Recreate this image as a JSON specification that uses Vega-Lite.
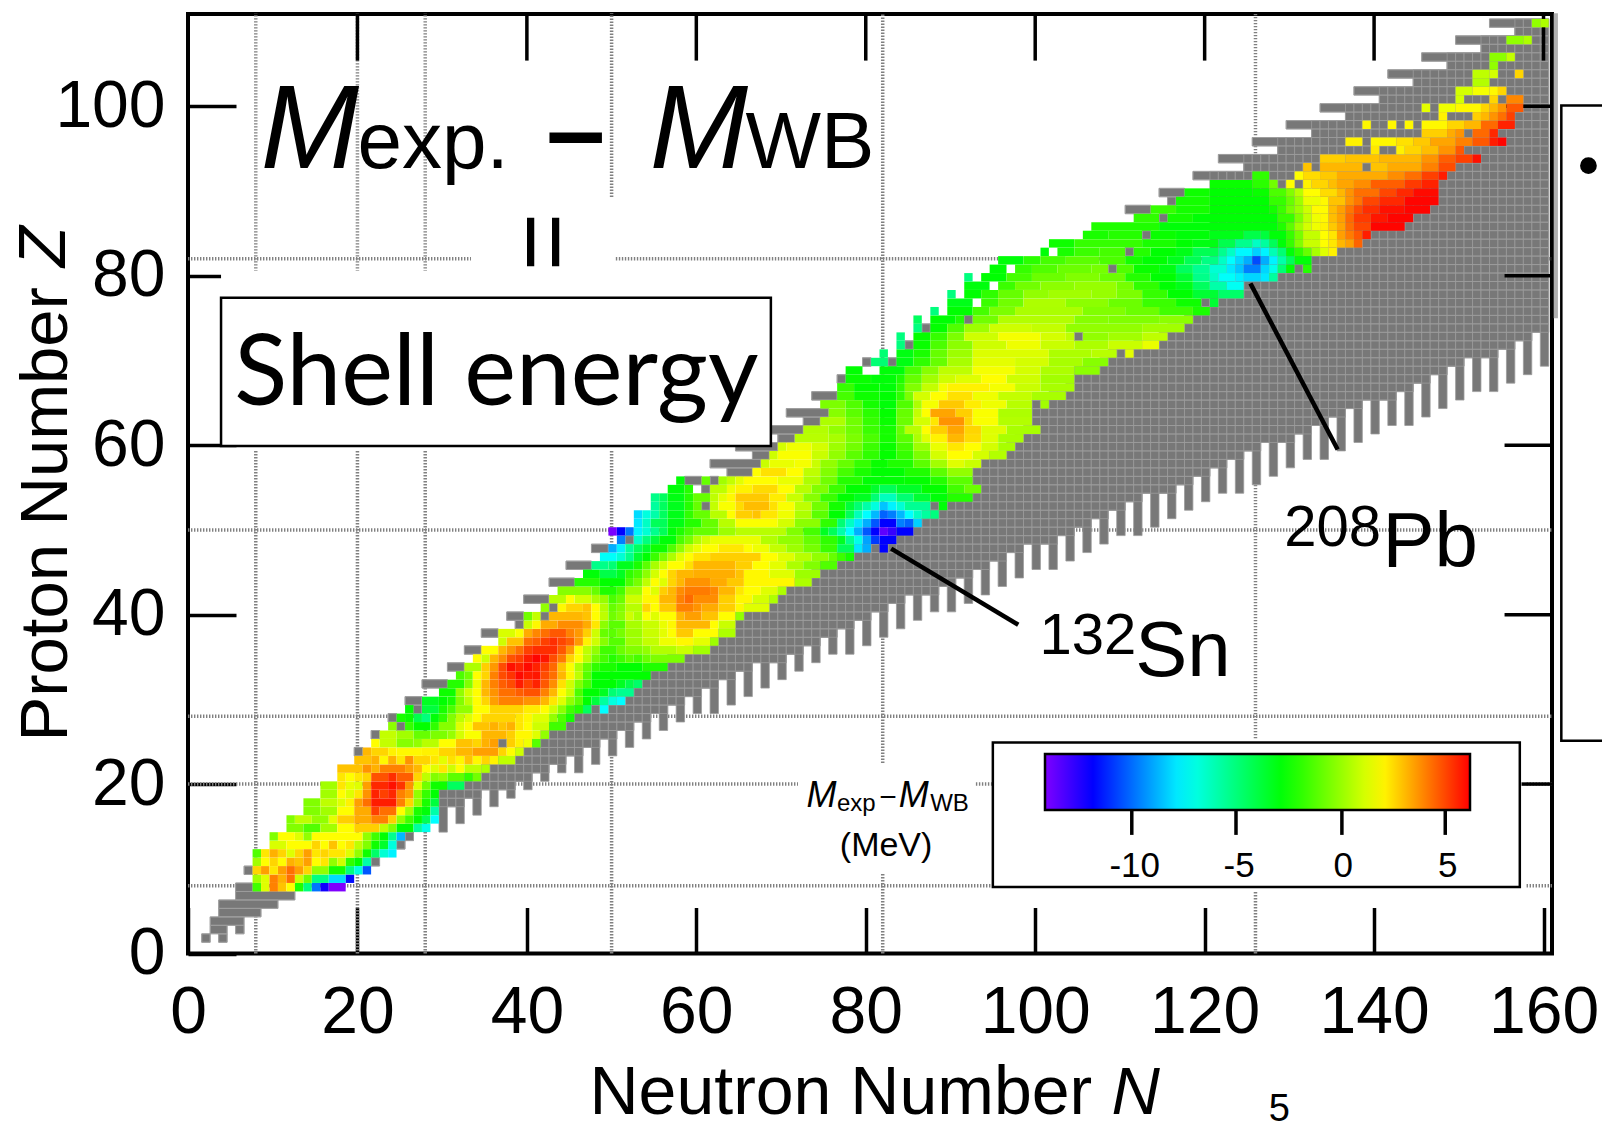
{"$schema":"https://vega.github.io/schema/vega-lite/v6.json","autosize":{"type":"none"},"width":1364,"height":939.5,"padding":{"left":188,"top":14,"right":50,"bottom":167.5},"background":"white","view":{"stroke":"black","strokeWidth":4,"fill":null},
"datasets":{
"magicV":[{"n":8,"z0":80.5,"z1":111},{"n":8,"z0":0,"z1":59.4},{"n":20,"z0":80.5,"z1":111},{"n":20,"z0":0,"z1":59.4},{"n":28,"z0":80.5,"z1":111},{"n":28,"z0":0,"z1":59.4},{"n":50,"z0":89.3,"z1":111},{"n":50,"z0":0,"z1":59.4},{"n":82,"z0":22.5,"z1":111},{"n":82,"z0":0,"z1":9.5},{"n":126,"z0":25.4,"z1":111},{"n":126,"z0":0,"z1":7.3}],
"magicH":[{"z":8,"n0":0,"n1":95},{"z":8,"n0":158,"n1":161},{"z":20,"n0":0,"n1":72},{"z":20,"n0":93,"n1":95},{"z":20,"n0":158,"n1":161},{"z":28,"n0":0,"n1":161},{"z":50,"n0":0,"n1":161},{"z":82,"n0":0,"n1":33.4},{"z":82,"n0":50.5,"n1":161}],
"gray":[{"z":2,"a":2,"b":2},{"z":2,"a":4,"b":4},{"z":3,"a":3,"b":4},{"z":3,"a":6,"b":6},{"z":4,"a":3,"b":6},{"z":5,"a":4,"b":8},{"z":6,"a":4,"b":10},{"z":7,"a":6,"b":12},{"z":8,"a":6,"b":7},{"z":10,"a":7,"b":7},{"z":11,"a":22,"b":22},{"z":13,"a":25,"b":25},{"z":14,"a":26,"b":26},{"z":24,"a":20,"b":20},{"z":25,"a":37,"b":37},{"z":26,"a":22,"b":22},{"z":27,"a":25,"b":25},{"z":28,"a":24,"b":24},{"z":29,"a":27,"b":27},{"z":29,"a":48,"b":48},{"z":30,"a":26,"b":27},{"z":32,"a":28,"b":30},{"z":34,"a":31,"b":32},{"z":36,"a":33,"b":34},{"z":38,"a":35,"b":36},{"z":39,"a":39,"b":39},{"z":40,"a":38,"b":39},{"z":40,"a":42,"b":42},{"z":41,"a":43,"b":43},{"z":42,"a":40,"b":42},{"z":44,"a":43,"b":45},{"z":46,"a":45,"b":47},{"z":48,"a":48,"b":49},{"z":48,"a":81,"b":81},{"z":49,"a":52,"b":52},{"z":53,"a":61,"b":61},{"z":53,"a":88,"b":88},{"z":55,"a":61,"b":61},{"z":56,"a":59,"b":60},{"z":56,"a":62,"b":62},{"z":57,"a":64,"b":66},{"z":58,"a":62,"b":67},{"z":59,"a":67,"b":68},{"z":60,"a":65,"b":69},{"z":61,"a":70,"b":71},{"z":62,"a":69,"b":72},{"z":63,"a":73,"b":74},{"z":64,"a":71,"b":75},{"z":65,"a":100,"b":100},{"z":66,"a":74,"b":76},{"z":68,"a":77,"b":77},{"z":70,"a":80,"b":80},{"z":70,"a":83,"b":83},{"z":71,"a":110,"b":110},{"z":72,"a":85,"b":85},{"z":73,"a":105,"b":105},{"z":74,"a":87,"b":87},{"z":75,"a":92,"b":92},{"z":77,"a":120,"b":120},{"z":81,"a":109,"b":109},{"z":81,"a":131,"b":131},{"z":83,"a":111,"b":111},{"z":85,"a":113,"b":113},{"z":87,"a":115,"b":115},{"z":88,"a":111,"b":113},{"z":89,"a":116,"b":116},{"z":90,"a":115,"b":117},{"z":91,"a":129,"b":129},
{"z":18,"a":30,"b":32},{"z":19,"a":30,"b":34},{"z":20,"a":33,"b":38},{"z":21,"a":35,"b":40},{"z":22,"a":36,"b":42},{"z":23,"a":39,"b":44},{"z":24,"a":40,"b":46},{"z":25,"a":42,"b":48},{"z":26,"a":43,"b":50},{"z":27,"a":45,"b":52},{"z":28,"a":46,"b":54},{"z":29,"a":50,"b":56},{"z":30,"a":52,"b":58},{"z":31,"a":53,"b":60},{"z":32,"a":54,"b":62},{"z":33,"a":55,"b":64},{"z":34,"a":57,"b":66},{"z":35,"a":59,"b":70},{"z":36,"a":62,"b":72},{"z":37,"a":63,"b":74},{"z":38,"a":65,"b":76},{"z":39,"a":65,"b":78},{"z":40,"a":66,"b":80},{"z":41,"a":69,"b":82},{"z":42,"a":70,"b":84},{"z":43,"a":71,"b":88},{"z":44,"a":74,"b":90},{"z":45,"a":75,"b":92},{"z":46,"a":77,"b":94},{"z":47,"a":79,"b":96},{"z":48,"a":83,"b":98},{"z":49,"a":84,"b":102},{"z":50,"a":86,"b":104},{"z":51,"a":87,"b":106},{"z":52,"a":89,"b":108},{"z":53,"a":90,"b":110},{"z":54,"a":93,"b":112},{"z":55,"a":94,"b":116},{"z":56,"a":93,"b":118},{"z":57,"a":93,"b":120},{"z":58,"a":94,"b":122},{"z":59,"a":97,"b":124},{"z":60,"a":98,"b":126},{"z":61,"a":99,"b":130},{"z":62,"a":101,"b":132},{"z":63,"a":100,"b":134},{"z":64,"a":100,"b":136},{"z":65,"a":102,"b":138},{"z":66,"a":104,"b":142},{"z":67,"a":105,"b":144},{"z":68,"a":105,"b":146},{"z":69,"a":108,"b":148},{"z":70,"a":109,"b":150},{"z":71,"a":112,"b":154},{"z":72,"a":115,"b":156},{"z":73,"a":116,"b":158},{"z":74,"a":118,"b":160},{"z":75,"a":119,"b":160},{"z":76,"a":121,"b":160},{"z":77,"a":122,"b":160},{"z":78,"a":125,"b":160},{"z":79,"a":125,"b":160},{"z":80,"a":129,"b":160},{"z":81,"a":133,"b":160},{"z":82,"a":133,"b":160},{"z":83,"a":136,"b":160},{"z":84,"a":139,"b":160},{"z":85,"a":140,"b":160},{"z":86,"a":144,"b":160},{"z":87,"a":145,"b":160},{"z":88,"a":147,"b":160},{"z":89,"a":148,"b":160},{"z":90,"a":148,"b":160},{"z":91,"a":148,"b":160},{"z":92,"a":119,"b":160},{"z":93,"a":125,"b":160},{"z":94,"a":122,"b":160},{"z":95,"a":129,"b":160},{"z":96,"a":126,"b":160},{"z":97,"a":133,"b":160},{"z":98,"a":130,"b":160},{"z":99,"a":137,"b":160},{"z":100,"a":134,"b":160},{"z":101,"a":141,"b":160},{"z":102,"a":138,"b":160},{"z":103,"a":145,"b":160},{"z":104,"a":142,"b":160},{"z":105,"a":149,"b":160},{"z":106,"a":146,"b":160},{"z":107,"a":153,"b":160},{"z":108,"a":150,"b":160},{"z":109,"a":157,"b":160},{"z":110,"a":154,"b":160}],
"teeth":[{"n":30,"z0":15,"z1":20},{"n":31,"z0":18,"z1":20},{"n":32,"z0":16,"z1":20},{"n":33,"z0":19,"z1":21},{"n":34,"z0":17,"z1":21},{"n":35,"z0":20,"z1":22},{"n":36,"z0":18,"z1":23},{"n":37,"z0":20,"z1":23},{"n":38,"z0":19,"z1":23},{"n":39,"z0":21,"z1":24},{"n":40,"z0":20,"z1":25},{"n":41,"z0":22,"z1":25},{"n":42,"z0":21,"z1":26},{"n":43,"z0":23,"z1":27},{"n":44,"z0":22,"z1":27},{"n":45,"z0":24,"z1":28},{"n":46,"z0":22,"z1":29},{"n":47,"z0":25,"z1":29},{"n":48,"z0":23,"z1":29},{"n":49,"z0":26,"z1":29},{"n":50,"z0":24,"z1":30},{"n":51,"z0":27,"z1":30},{"n":52,"z0":25,"z1":31},{"n":53,"z0":28,"z1":32},{"n":54,"z0":26,"z1":33},{"n":55,"z0":29,"z1":34},{"n":56,"z0":27,"z1":34},{"n":57,"z0":30,"z1":35},{"n":58,"z0":28,"z1":35},{"n":59,"z0":31,"z1":36},{"n":60,"z0":29,"z1":36},{"n":61,"z0":32,"z1":36},{"n":62,"z0":29,"z1":37},{"n":63,"z0":33,"z1":38},{"n":64,"z0":30,"z1":38},{"n":65,"z0":34,"z1":40},{"n":66,"z0":31,"z1":41},{"n":67,"z0":35,"z1":41},{"n":68,"z0":32,"z1":41},{"n":69,"z0":35,"z1":42},{"n":70,"z0":33,"z1":43},{"n":71,"z0":36,"z1":44},{"n":72,"z0":34,"z1":44},{"n":73,"z0":37,"z1":44},{"n":74,"z0":35,"z1":45},{"n":75,"z0":38,"z1":46},{"n":76,"z0":36,"z1":46},{"n":77,"z0":39,"z1":47},{"n":78,"z0":36,"z1":47},{"n":79,"z0":40,"z1":48},{"n":80,"z0":37,"z1":48},{"n":81,"z0":41,"z1":48},{"n":82,"z0":38,"z1":48},{"n":83,"z0":42,"z1":49},{"n":84,"z0":39,"z1":50},{"n":85,"z0":43,"z1":50},{"n":86,"z0":40,"z1":51},{"n":87,"z0":43,"z1":52},{"n":88,"z0":41,"z1":52},{"n":89,"z0":44,"z1":53},{"n":90,"z0":41,"z1":54},{"n":91,"z0":45,"z1":54},{"n":92,"z0":42,"z1":54},{"n":93,"z0":46,"z1":55},{"n":94,"z0":43,"z1":59},{"n":95,"z0":47,"z1":59},{"n":96,"z0":44,"z1":59},{"n":97,"z0":48,"z1":60},{"n":98,"z0":45,"z1":61},{"n":99,"z0":49,"z1":62},{"n":100,"z0":46,"z1":62},{"n":101,"z0":49,"z1":65},{"n":102,"z0":46,"z1":66},{"n":103,"z0":50,"z1":66},{"n":104,"z0":47,"z1":67},{"n":105,"z0":51,"z1":69},{"n":106,"z0":48,"z1":69},{"n":107,"z0":52,"z1":69},{"n":108,"z0":49,"z1":70},{"n":109,"z0":53,"z1":71},{"n":110,"z0":50,"z1":71},{"n":111,"z0":54,"z1":71},{"n":112,"z0":50,"z1":72},{"n":113,"z0":55,"z1":72},{"n":114,"z0":51,"z1":72},{"n":115,"z0":55,"z1":73},{"n":116,"z0":52,"z1":74},{"n":117,"z0":56,"z1":74},{"n":118,"z0":53,"z1":75},{"n":119,"z0":57,"z1":76},{"n":120,"z0":54,"z1":76},{"n":121,"z0":58,"z1":92},{"n":122,"z0":55,"z1":92},{"n":123,"z0":59,"z1":92},{"n":124,"z0":55,"z1":92},{"n":125,"z0":60,"z1":94},{"n":126,"z0":56,"z1":94},{"n":127,"z0":61,"z1":94},{"n":128,"z0":57,"z1":94},{"n":129,"z0":61,"z1":96},{"n":130,"z0":58,"z1":96},{"n":131,"z0":62,"z1":96},{"n":132,"z0":59,"z1":96},{"n":133,"z0":63,"z1":98},{"n":134,"z0":59,"z1":98},{"n":135,"z0":64,"z1":98},{"n":136,"z0":60,"z1":98},{"n":137,"z0":65,"z1":100},{"n":138,"z0":61,"z1":100},{"n":139,"z0":66,"z1":100},{"n":140,"z0":62,"z1":100},{"n":141,"z0":66,"z1":102},{"n":142,"z0":63,"z1":102},{"n":143,"z0":67,"z1":102},{"n":144,"z0":63,"z1":102},{"n":145,"z0":68,"z1":104},{"n":146,"z0":64,"z1":104},{"n":147,"z0":69,"z1":104},{"n":148,"z0":65,"z1":104},{"n":149,"z0":70,"z1":106},{"n":150,"z0":66,"z1":106},{"n":151,"z0":71,"z1":106},{"n":152,"z0":67,"z1":106},{"n":153,"z0":71,"z1":108},{"n":154,"z0":67,"z1":108},{"n":155,"z0":72,"z1":108},{"n":156,"z0":68,"z1":108},{"n":157,"z0":73,"z1":110},{"n":158,"z0":69,"z1":110},{"n":159,"z0":74,"z1":110},{"n":160,"z0":70,"z1":110}],
"ticksV":[{"n":20,"z0":105.4,"z1":110.9},{"n":40,"z0":105.4,"z1":110.9},{"n":60,"z0":105.4,"z1":110.9},{"n":80,"z0":105.4,"z1":110.9},{"n":100,"z0":105.4,"z1":110.9},{"n":120,"z0":105.4,"z1":110.9},{"n":140,"z0":105.4,"z1":110.9},{"n":160,"z0":105.4,"z1":110.9}],
"ticksBar":[{"n":111.4,"z0":14,"z1":16.9},{"n":123.7,"z0":14,"z1":16.9},{"n":136.2,"z0":14,"z1":16.9},{"n":148.4,"z0":14,"z1":16.9}],
"ticksH":[{"z":20,"n0":157.4,"n1":161},{"z":40,"n0":155.4,"n1":161},{"z":60,"n0":155.4,"n1":161},{"z":80,"n0":155.4,"n1":161},{"z":100,"n0":155.4,"n1":161}],
"cells":[{"z":8,"a":8,"b":8,"v":-1.7},{"z":8,"a":9,"b":9,"v":1.2},{"z":8,"a":10,"b":10,"v":3.9},{"z":8,"a":11,"b":11,"v":2.8},{"z":8,"a":12,"b":12,"v":1.8},{"z":8,"a":13,"b":13,"v":-2.3},{"z":8,"a":14,"b":14,"v":-5.2},{"z":8,"a":15,"b":15,"v":-10},{"z":8,"a":16,"b":16,"v":-12.3},{"z":8,"a":17,"b":18,"v":-14.3},
{"z":9,"a":8,"b":8,"v":0.1},{"z":9,"a":9,"b":9,"v":1.2},{"z":9,"a":10,"b":10,"v":3.9},{"z":9,"a":11,"b":11,"v":3.1},{"z":9,"a":12,"b":12,"v":4.2},{"z":9,"a":13,"b":13,"v":0.9},{"z":9,"a":14,"b":14,"v":-0.8},{"z":9,"a":15,"b":16,"v":-5.3},{"z":9,"a":17,"b":18,"v":-8.2},{"z":9,"a":19,"b":19,"v":-11.8},
{"z":10,"a":8,"b":8,"v":2.5},{"z":10,"a":9,"b":9,"v":3.4},{"z":10,"a":10,"b":10,"v":2.2},{"z":10,"a":11,"b":11,"v":3.4},{"z":10,"a":12,"b":12,"v":4.2},{"z":10,"a":13,"b":13,"v":3.4},{"z":10,"a":14,"b":14,"v":2.5},{"z":10,"a":15,"b":16,"v":-0.2},{"z":10,"a":17,"b":18,"v":-2.5},{"z":10,"a":19,"b":19,"v":-5.2},{"z":10,"a":20,"b":20,"v":-7},{"z":10,"a":21,"b":21,"v":-10.5},
{"z":11,"a":8,"b":8,"v":0.1},{"z":11,"a":9,"b":9,"v":1.8},{"z":11,"a":10,"b":10,"v":2.5},{"z":11,"a":11,"b":11,"v":1.8},{"z":11,"a":12,"b":12,"v":3.1},{"z":11,"a":13,"b":13,"v":2.8},{"z":11,"a":14,"b":14,"v":3.4},{"z":11,"a":15,"b":15,"v":1.8},{"z":11,"a":16,"b":16,"v":2.2},{"z":11,"a":17,"b":17,"v":-0.2},{"z":11,"a":18,"b":18,"v":0.9},{"z":11,"a":19,"b":19,"v":-2},{"z":11,"a":20,"b":20,"v":-2.9},{"z":11,"a":21,"b":21,"v":-6},
{"z":12,"a":8,"b":8,"v":-1.4},{"z":12,"a":9,"b":9,"v":2.2},{"z":12,"a":10,"b":10,"v":3.1},{"z":12,"a":11,"b":11,"v":2.5},{"z":12,"a":12,"b":12,"v":1.2},{"z":12,"a":13,"b":13,"v":2.5},{"z":12,"a":14,"b":14,"v":3.4},{"z":12,"a":15,"b":15,"v":2.2},{"z":12,"a":16,"b":16,"v":2.5},{"z":12,"a":17,"b":18,"v":2.2},{"z":12,"a":19,"b":19,"v":1.2},{"z":12,"a":20,"b":20,"v":-0.2},{"z":12,"a":21,"b":21,"v":-2.6},{"z":12,"a":22,"b":22,"v":-4.8},{"z":12,"a":23,"b":23,"v":-6.8},{"z":12,"a":24,"b":24,"v":-7.8},
{"z":13,"a":10,"b":11,"v":1.1},{"z":13,"a":12,"b":14,"v":1.8},{"z":13,"a":15,"b":15,"v":2.5},{"z":13,"a":16,"b":16,"v":1.8},{"z":13,"a":17,"b":17,"v":2.8},{"z":13,"a":18,"b":18,"v":1.8},{"z":13,"a":19,"b":19,"v":2.2},{"z":13,"a":20,"b":20,"v":0.6},{"z":13,"a":21,"b":21,"v":-0.5},{"z":13,"a":22,"b":22,"v":-2.6},{"z":13,"a":23,"b":23,"v":-3.7},{"z":13,"a":24,"b":24,"v":-7},
{"z":14,"a":10,"b":10,"v":-0.5},{"z":14,"a":11,"b":12,"v":1.8},{"z":14,"a":13,"b":13,"v":1.2},{"z":14,"a":14,"b":14,"v":-0.2},{"z":14,"a":15,"b":20,"v":1.8},{"z":14,"a":21,"b":21,"v":-0.2},{"z":14,"a":22,"b":22,"v":-1.7},{"z":14,"a":23,"b":23,"v":-2.9},{"z":14,"a":24,"b":24,"v":-5.5},{"z":14,"a":25,"b":25,"v":-8.8},
{"z":15,"a":12,"b":13,"v":-0.5},{"z":15,"a":14,"b":15,"v":-1.4},{"z":15,"a":16,"b":17,"v":0.1},{"z":15,"a":18,"b":19,"v":1.8},{"z":15,"a":20,"b":22,"v":2.6},{"z":15,"a":23,"b":23,"v":0.6},{"z":15,"a":24,"b":24,"v":-0.5},{"z":15,"a":25,"b":26,"v":-2.9},{"z":15,"a":27,"b":27,"v":-5.8},{"z":15,"a":28,"b":28,"v":-7.2},
{"z":16,"a":12,"b":12,"v":-0.5},{"z":16,"a":13,"b":14,"v":0.6},{"z":16,"a":15,"b":16,"v":-0.2},{"z":16,"a":17,"b":17,"v":1.3},{"z":16,"a":18,"b":19,"v":2.6},{"z":16,"a":20,"b":21,"v":3.2},{"z":16,"a":22,"b":23,"v":3.9},{"z":16,"a":24,"b":24,"v":2.6},{"z":16,"a":25,"b":25,"v":-0.2},{"z":16,"a":26,"b":26,"v":-1.7},{"z":16,"a":27,"b":27,"v":-2.9},{"z":16,"a":28,"b":28,"v":-4.4},{"z":16,"a":29,"b":29,"v":-7.6},
{"z":17,"a":14,"b":15,"v":-0.5},{"z":17,"a":16,"b":17,"v":0.1},{"z":17,"a":18,"b":19,"v":1.8},{"z":17,"a":20,"b":21,"v":3.2},{"z":17,"a":22,"b":22,"v":5},{"z":17,"a":23,"b":24,"v":4.2},{"z":17,"a":25,"b":25,"v":1.8},{"z":17,"a":26,"b":26,"v":0.1},{"z":17,"a":27,"b":27,"v":-2.4},{"z":17,"a":28,"b":28,"v":-3},{"z":17,"a":29,"b":29,"v":-6},
{"z":18,"a":14,"b":15,"v":-0.5},{"z":18,"a":16,"b":17,"v":0.6},{"z":18,"a":18,"b":18,"v":1.2},{"z":18,"a":19,"b":19,"v":2},{"z":18,"a":20,"b":20,"v":3.4},{"z":18,"a":21,"b":21,"v":4.2},{"z":18,"a":22,"b":24,"v":5.6},{"z":18,"a":25,"b":25,"v":3.9},{"z":18,"a":26,"b":26,"v":2.5},{"z":18,"a":27,"b":27,"v":-0.2},{"z":18,"a":28,"b":28,"v":-2.4},{"z":18,"a":29,"b":29,"v":-4},
{"z":19,"a":16,"b":17,"v":0.1},{"z":19,"a":18,"b":18,"v":1.8},{"z":19,"a":19,"b":19,"v":1.2},{"z":19,"a":20,"b":20,"v":2.2},{"z":19,"a":21,"b":21,"v":3.6},{"z":19,"a":22,"b":22,"v":5.5},{"z":19,"a":23,"b":23,"v":5},{"z":19,"a":24,"b":24,"v":5.4},{"z":19,"a":25,"b":25,"v":3.9},{"z":19,"a":26,"b":26,"v":3.4},{"z":19,"a":27,"b":27,"v":-0.2},{"z":19,"a":28,"b":28,"v":-1.9},{"z":19,"a":29,"b":29,"v":-2.9},
{"z":20,"a":16,"b":17,"v":0.1},{"z":20,"a":18,"b":18,"v":2.2},{"z":20,"a":19,"b":19,"v":1.4},{"z":20,"a":20,"b":20,"v":1.2},{"z":20,"a":21,"b":21,"v":3.4},{"z":20,"a":22,"b":23,"v":5.4},{"z":20,"a":24,"b":24,"v":5.8},{"z":20,"a":25,"b":25,"v":5.2},{"z":20,"a":26,"b":26,"v":3.6},{"z":20,"a":27,"b":27,"v":1.2},{"z":20,"a":28,"b":28,"v":-0.8},{"z":20,"a":29,"b":30,"v":-2.6},{"z":20,"a":31,"b":32,"v":-4.6},
{"z":21,"a":18,"b":18,"v":2.2},{"z":21,"a":19,"b":19,"v":1.8},{"z":21,"a":20,"b":20,"v":2.2},{"z":21,"a":21,"b":21,"v":2.5},{"z":21,"a":22,"b":23,"v":4.7},{"z":21,"a":24,"b":24,"v":5.3},{"z":21,"a":25,"b":26,"v":4.5},{"z":21,"a":27,"b":27,"v":2.5},{"z":21,"a":28,"b":28,"v":0.6},{"z":21,"a":29,"b":29,"v":-0.5},{"z":21,"a":30,"b":30,"v":-0.2},{"z":21,"a":31,"b":32,"v":-1.2},{"z":21,"a":33,"b":33,"v":-2},{"z":21,"a":34,"b":34,"v":-0.8},
{"z":22,"a":18,"b":20,"v":2.8},{"z":22,"a":21,"b":21,"v":3.6},{"z":22,"a":22,"b":22,"v":3.1},{"z":22,"a":23,"b":25,"v":3.9},{"z":22,"a":26,"b":26,"v":3.4},{"z":22,"a":27,"b":27,"v":3},{"z":22,"a":28,"b":28,"v":1.8},{"z":22,"a":29,"b":29,"v":1.2},{"z":22,"a":30,"b":30,"v":2.2},{"z":22,"a":31,"b":31,"v":0.9},{"z":22,"a":32,"b":32,"v":1.8},{"z":22,"a":33,"b":34,"v":0.6},{"z":22,"a":35,"b":35,"v":0.3},
{"z":23,"a":20,"b":21,"v":2.8},{"z":23,"a":22,"b":22,"v":3.1},{"z":23,"a":23,"b":23,"v":1.9},{"z":23,"a":24,"b":24,"v":3.1},{"z":23,"a":25,"b":25,"v":2.2},{"z":23,"a":26,"b":26,"v":3.6},{"z":23,"a":27,"b":28,"v":2.5},{"z":23,"a":29,"b":29,"v":2.2},{"z":23,"a":30,"b":30,"v":1.3},{"z":23,"a":31,"b":31,"v":2.3},{"z":23,"a":32,"b":32,"v":1.9},{"z":23,"a":33,"b":33,"v":2.8},{"z":23,"a":34,"b":34,"v":1.9},{"z":23,"a":35,"b":35,"v":2.5},{"z":23,"a":36,"b":36,"v":2},{"z":23,"a":37,"b":38,"v":0.6},
{"z":24,"a":21,"b":21,"v":3},{"z":24,"a":22,"b":23,"v":2.5},{"z":24,"a":24,"b":24,"v":2},{"z":24,"a":25,"b":27,"v":1.9},{"z":24,"a":28,"b":29,"v":2},{"z":24,"a":30,"b":31,"v":2.5},{"z":24,"a":32,"b":33,"v":3},{"z":24,"a":34,"b":36,"v":3.4},{"z":24,"a":37,"b":37,"v":2.5},{"z":24,"a":38,"b":38,"v":1.8},{"z":24,"a":39,"b":39,"v":0.9},
{"z":25,"a":22,"b":22,"v":1.8},{"z":25,"a":23,"b":24,"v":0.7},{"z":25,"a":25,"b":26,"v":-0.4},{"z":25,"a":27,"b":27,"v":-0.2},{"z":25,"a":28,"b":29,"v":0.5},{"z":25,"a":30,"b":31,"v":1.8},{"z":25,"a":32,"b":33,"v":2.8},{"z":25,"a":34,"b":34,"v":2.5},{"z":25,"a":35,"b":35,"v":3.1},{"z":25,"a":36,"b":36,"v":3.4},{"z":25,"a":38,"b":38,"v":2.6},{"z":25,"a":39,"b":39,"v":2},{"z":25,"a":40,"b":40,"v":1.5},{"z":25,"a":41,"b":41,"v":-1.3},
{"z":26,"a":23,"b":24,"v":0.7},{"z":26,"a":25,"b":26,"v":0.1},{"z":26,"a":27,"b":28,"v":-1},{"z":26,"a":29,"b":30,"v":-0.6},{"z":26,"a":31,"b":31,"v":-0.1},{"z":26,"a":32,"b":32,"v":1},{"z":26,"a":33,"b":34,"v":1.7},{"z":26,"a":35,"b":37,"v":3},{"z":26,"a":38,"b":38,"v":2.6},{"z":26,"a":39,"b":40,"v":1.9},{"z":26,"a":41,"b":41,"v":1.2},{"z":26,"a":42,"b":42,"v":-0.2},
{"z":27,"a":24,"b":24,"v":-0.3},{"z":27,"a":26,"b":26,"v":-1.9},{"z":27,"a":27,"b":28,"v":-2.8},{"z":27,"a":29,"b":29,"v":-2},{"z":27,"a":30,"b":31,"v":-0.4},{"z":27,"a":32,"b":32,"v":1.2},{"z":27,"a":33,"b":33,"v":1.8},{"z":27,"a":34,"b":35,"v":2.8},{"z":27,"a":36,"b":36,"v":3.1},{"z":27,"a":37,"b":37,"v":2.8},{"z":27,"a":38,"b":38,"v":3.1},{"z":27,"a":39,"b":39,"v":2.2},{"z":27,"a":40,"b":40,"v":1.8},{"z":27,"a":41,"b":42,"v":0.9},{"z":27,"a":43,"b":44,"v":-1.7},
{"z":28,"a":25,"b":25,"v":-2.4},{"z":28,"a":26,"b":26,"v":-2.7},{"z":28,"a":27,"b":27,"v":-4.3},{"z":28,"a":28,"b":28,"v":-5.2},{"z":28,"a":29,"b":29,"v":-3},{"z":28,"a":30,"b":30,"v":-2},{"z":28,"a":31,"b":31,"v":-0.5},{"z":28,"a":32,"b":32,"v":0.6},{"z":28,"a":33,"b":33,"v":1.2},{"z":28,"a":34,"b":34,"v":1.8},{"z":28,"a":35,"b":38,"v":2.5},{"z":28,"a":39,"b":39,"v":2.2},{"z":28,"a":40,"b":40,"v":1.9},{"z":28,"a":41,"b":42,"v":1.2},{"z":28,"a":43,"b":43,"v":-0.2},{"z":28,"a":44,"b":44,"v":-1.4},{"z":28,"a":45,"b":45,"v":-2.5},
{"z":29,"a":26,"b":26,"v":-2.9},{"z":29,"a":28,"b":29,"v":-4},{"z":29,"a":30,"b":30,"v":-2.4},{"z":29,"a":31,"b":31,"v":-1.5},{"z":29,"a":32,"b":33,"v":-0.2},{"z":29,"a":34,"b":35,"v":1.8},{"z":29,"a":36,"b":39,"v":2.5},{"z":29,"a":40,"b":41,"v":2.1},{"z":29,"a":42,"b":42,"v":1.8},{"z":29,"a":43,"b":43,"v":0.9},{"z":29,"a":44,"b":44,"v":-0.3},{"z":29,"a":45,"b":45,"v":-1.7},{"z":29,"a":46,"b":46,"v":-2.2},{"z":29,"a":47,"b":47,"v":-4.6},{"z":29,"a":49,"b":49,"v":-7.6},
{"z":30,"a":28,"b":29,"v":-3.5},{"z":30,"a":30,"b":30,"v":-2.9},{"z":30,"a":31,"b":31,"v":-2.4},{"z":30,"a":32,"b":32,"v":-0.5},{"z":30,"a":33,"b":33,"v":0.6},{"z":30,"a":34,"b":34,"v":1.8},{"z":30,"a":35,"b":35,"v":2.5},{"z":30,"a":36,"b":36,"v":3.4},{"z":30,"a":37,"b":39,"v":3.9},{"z":30,"a":40,"b":41,"v":3.6},{"z":30,"a":42,"b":42,"v":3},{"z":30,"a":43,"b":43,"v":2.2},{"z":30,"a":44,"b":44,"v":1.2},{"z":30,"a":45,"b":45,"v":-0.2},{"z":30,"a":46,"b":46,"v":-1.2},{"z":30,"a":47,"b":47,"v":-2.9},{"z":30,"a":48,"b":48,"v":-4},{"z":30,"a":49,"b":49,"v":-5.8},{"z":30,"a":50,"b":50,"v":-7},{"z":30,"a":51,"b":51,"v":-7.6},
{"z":31,"a":30,"b":31,"v":-2.6},{"z":31,"a":32,"b":32,"v":-0.2},{"z":31,"a":33,"b":33,"v":1},{"z":31,"a":34,"b":34,"v":1.8},{"z":31,"a":35,"b":35,"v":3},{"z":31,"a":36,"b":36,"v":3.6},{"z":31,"a":37,"b":38,"v":4.2},{"z":31,"a":39,"b":39,"v":4.5},{"z":31,"a":40,"b":41,"v":4.7},{"z":31,"a":42,"b":42,"v":3.9},{"z":31,"a":43,"b":43,"v":3},{"z":31,"a":44,"b":44,"v":1.8},{"z":31,"a":45,"b":45,"v":0.8},{"z":31,"a":46,"b":46,"v":-1.5},{"z":31,"a":47,"b":48,"v":-2.9},{"z":31,"a":49,"b":49,"v":-3.5},{"z":31,"a":50,"b":50,"v":-5},{"z":31,"a":51,"b":52,"v":-5.5},
{"z":32,"a":31,"b":32,"v":-2.2},{"z":32,"a":33,"b":33,"v":-0.5},{"z":32,"a":34,"b":34,"v":1.5},{"z":32,"a":35,"b":35,"v":3},{"z":32,"a":36,"b":36,"v":3.9},{"z":32,"a":37,"b":37,"v":4.5},{"z":32,"a":38,"b":38,"v":4.8},{"z":32,"a":39,"b":39,"v":5.6},{"z":32,"a":40,"b":40,"v":5},{"z":32,"a":41,"b":41,"v":5.5},{"z":32,"a":42,"b":42,"v":4.6},{"z":32,"a":43,"b":43,"v":3.7},{"z":32,"a":44,"b":44,"v":2.3},{"z":32,"a":45,"b":45,"v":0.9},{"z":32,"a":46,"b":46,"v":-0.5},{"z":32,"a":47,"b":47,"v":-1.6},{"z":32,"a":48,"b":50,"v":-2.9},{"z":32,"a":51,"b":51,"v":-3.5},{"z":32,"a":52,"b":52,"v":-4.2},{"z":32,"a":53,"b":53,"v":-4.8},
{"z":33,"a":32,"b":32,"v":-1.5},{"z":33,"a":33,"b":33,"v":-0.8},{"z":33,"a":34,"b":34,"v":1.8},{"z":33,"a":35,"b":35,"v":2.5},{"z":33,"a":36,"b":36,"v":3.9},{"z":33,"a":37,"b":37,"v":4.8},{"z":33,"a":38,"b":38,"v":5.2},{"z":33,"a":39,"b":39,"v":5.9},{"z":33,"a":40,"b":40,"v":5.6},{"z":33,"a":41,"b":41,"v":5.7},{"z":33,"a":42,"b":42,"v":4.8},{"z":33,"a":43,"b":43,"v":4.2},{"z":33,"a":44,"b":44,"v":3},{"z":33,"a":45,"b":45,"v":1.9},{"z":33,"a":46,"b":46,"v":0.6},{"z":33,"a":47,"b":47,"v":-1.3},{"z":33,"a":48,"b":54,"v":-2.85},
{"z":34,"a":33,"b":34,"v":0.3},{"z":34,"a":35,"b":35,"v":2.6},{"z":34,"a":36,"b":36,"v":3.5},{"z":34,"a":37,"b":37,"v":4.8},{"z":34,"a":38,"b":38,"v":5.8},{"z":34,"a":39,"b":39,"v":5.5},{"z":34,"a":40,"b":40,"v":5.9},{"z":34,"a":41,"b":41,"v":5.5},{"z":34,"a":42,"b":42,"v":5},{"z":34,"a":43,"b":43,"v":4.3},{"z":34,"a":44,"b":44,"v":2.8},{"z":34,"a":45,"b":45,"v":1.7},{"z":34,"a":46,"b":46,"v":0.3},{"z":34,"a":47,"b":47,"v":-1},{"z":34,"a":48,"b":48,"v":-2},{"z":34,"a":49,"b":50,"v":-2.4},{"z":34,"a":51,"b":53,"v":-2.9},{"z":34,"a":54,"b":56,"v":-2.3},
{"z":35,"a":34,"b":34,"v":1.8},{"z":35,"a":35,"b":35,"v":0.9},{"z":35,"a":36,"b":36,"v":3},{"z":35,"a":37,"b":37,"v":3.7},{"z":35,"a":38,"b":38,"v":4.7},{"z":35,"a":39,"b":39,"v":5},{"z":35,"a":40,"b":40,"v":5.6},{"z":35,"a":41,"b":41,"v":6},{"z":35,"a":42,"b":42,"v":5.7},{"z":35,"a":43,"b":43,"v":4.8},{"z":35,"a":44,"b":44,"v":4},{"z":35,"a":45,"b":45,"v":2.5},{"z":35,"a":46,"b":46,"v":1.8},{"z":35,"a":47,"b":47,"v":0.5},{"z":35,"a":48,"b":48,"v":-0.8},{"z":35,"a":49,"b":49,"v":-1.6},{"z":35,"a":50,"b":50,"v":-2.2},{"z":35,"a":51,"b":51,"v":-1.7},{"z":35,"a":52,"b":52,"v":-1.2},{"z":35,"a":53,"b":53,"v":-1.6},{"z":35,"a":54,"b":54,"v":-0.9},{"z":35,"a":55,"b":58,"v":-0.6},
{"z":36,"a":35,"b":36,"v":1.8},{"z":36,"a":37,"b":37,"v":3},{"z":36,"a":38,"b":38,"v":3.6},{"z":36,"a":39,"b":39,"v":4.2},{"z":36,"a":40,"b":40,"v":5},{"z":36,"a":41,"b":43,"v":5.3},{"z":36,"a":44,"b":44,"v":4.6},{"z":36,"a":45,"b":45,"v":3.5},{"z":36,"a":46,"b":46,"v":1.8},{"z":36,"a":47,"b":47,"v":0.6},{"z":36,"a":48,"b":48,"v":-0.2},{"z":36,"a":49,"b":50,"v":-1.7},{"z":36,"a":51,"b":51,"v":-0.9},{"z":36,"a":52,"b":53,"v":-0.5},{"z":36,"a":54,"b":54,"v":-0.2},{"z":36,"a":55,"b":57,"v":0.4},{"z":36,"a":58,"b":59,"v":0.8},{"z":36,"a":60,"b":61,"v":0.1},
{"z":37,"a":37,"b":37,"v":0.9},{"z":37,"a":38,"b":39,"v":2.8},{"z":37,"a":40,"b":40,"v":4.2},{"z":37,"a":41,"b":41,"v":4.5},{"z":37,"a":42,"b":42,"v":5},{"z":37,"a":43,"b":43,"v":5.3},{"z":37,"a":44,"b":44,"v":4.9},{"z":37,"a":45,"b":45,"v":4.5},{"z":37,"a":46,"b":46,"v":3.5},{"z":37,"a":47,"b":47,"v":2},{"z":37,"a":48,"b":48,"v":0.9},{"z":37,"a":49,"b":49,"v":-0.4},{"z":37,"a":50,"b":51,"v":-1.3},{"z":37,"a":52,"b":53,"v":0},{"z":37,"a":54,"b":55,"v":0.7},{"z":37,"a":56,"b":57,"v":1.5},{"z":37,"a":58,"b":59,"v":1.9},{"z":37,"a":60,"b":61,"v":1.3},{"z":37,"a":62,"b":62,"v":0},
{"z":38,"a":37,"b":38,"v":1.1},{"z":38,"a":39,"b":39,"v":1.7},{"z":38,"a":40,"b":40,"v":3.2},{"z":38,"a":41,"b":41,"v":3.8},{"z":38,"a":42,"b":42,"v":4.2},{"z":38,"a":43,"b":44,"v":4.6},{"z":38,"a":45,"b":45,"v":3.9},{"z":38,"a":46,"b":46,"v":3.5},{"z":38,"a":47,"b":47,"v":2.6},{"z":38,"a":48,"b":48,"v":0.9},{"z":38,"a":49,"b":49,"v":-1},{"z":38,"a":50,"b":50,"v":-1.2},{"z":38,"a":51,"b":51,"v":-0.7},{"z":38,"a":52,"b":53,"v":0},{"z":38,"a":54,"b":55,"v":0.8},{"z":38,"a":56,"b":56,"v":1.3},{"z":38,"a":57,"b":57,"v":1.8},{"z":38,"a":58,"b":59,"v":2.7},{"z":38,"a":60,"b":62,"v":1.8},{"z":38,"a":63,"b":64,"v":0.3},
{"z":39,"a":40,"b":40,"v":0.8},{"z":39,"a":41,"b":41,"v":1.9},{"z":39,"a":42,"b":43,"v":3.2},{"z":39,"a":44,"b":46,"v":3.7},{"z":39,"a":47,"b":47,"v":3.2},{"z":39,"a":48,"b":48,"v":2.2},{"z":39,"a":49,"b":49,"v":-0.3},{"z":39,"a":50,"b":51,"v":-1.2},{"z":39,"a":52,"b":53,"v":0.2},{"z":39,"a":54,"b":55,"v":0.8},{"z":39,"a":56,"b":56,"v":1.4},{"z":39,"a":57,"b":57,"v":1.9},{"z":39,"a":58,"b":61,"v":3},{"z":39,"a":62,"b":62,"v":1.8},{"z":39,"a":63,"b":64,"v":0.8},
{"z":40,"a":40,"b":40,"v":-0.8},{"z":40,"a":41,"b":41,"v":0.7},{"z":40,"a":43,"b":46,"v":3},{"z":40,"a":47,"b":47,"v":2.8},{"z":40,"a":48,"b":48,"v":1.8},{"z":40,"a":49,"b":49,"v":0.6},{"z":40,"a":50,"b":50,"v":-0.8},{"z":40,"a":51,"b":51,"v":-0.3},{"z":40,"a":52,"b":52,"v":0.9},{"z":40,"a":53,"b":53,"v":0.3},{"z":40,"a":54,"b":54,"v":1.8},{"z":40,"a":55,"b":55,"v":1.2},{"z":40,"a":56,"b":57,"v":1.8},{"z":40,"a":58,"b":58,"v":3},{"z":40,"a":59,"b":60,"v":3.4},{"z":40,"a":61,"b":62,"v":2.8},{"z":40,"a":63,"b":64,"v":1.8},{"z":40,"a":65,"b":65,"v":-0.2},
{"z":41,"a":42,"b":42,"v":-0.2},{"z":41,"a":44,"b":44,"v":1.9},{"z":41,"a":45,"b":46,"v":2.5},{"z":41,"a":47,"b":47,"v":2.8},{"z":41,"a":48,"b":48,"v":1.8},{"z":41,"a":49,"b":49,"v":0.4},{"z":41,"a":50,"b":50,"v":-1},{"z":41,"a":51,"b":51,"v":-0.5},{"z":41,"a":52,"b":53,"v":0.5},{"z":41,"a":54,"b":54,"v":2.5},{"z":41,"a":55,"b":55,"v":1.8},{"z":41,"a":56,"b":57,"v":2.7},{"z":41,"a":58,"b":59,"v":3.9},{"z":41,"a":60,"b":60,"v":3.6},{"z":41,"a":61,"b":62,"v":3.2},{"z":41,"a":63,"b":64,"v":2.6},{"z":41,"a":65,"b":65,"v":1.9},{"z":41,"a":66,"b":68,"v":1.2},
{"z":42,"a":43,"b":44,"v":0.5},{"z":42,"a":45,"b":45,"v":1.8},{"z":42,"a":46,"b":47,"v":1},{"z":42,"a":48,"b":48,"v":0.3},{"z":42,"a":49,"b":49,"v":-0.1},{"z":42,"a":50,"b":50,"v":-1.5},{"z":42,"a":51,"b":51,"v":-0.9},{"z":42,"a":52,"b":53,"v":0.9},{"z":42,"a":54,"b":55,"v":1.9},{"z":42,"a":56,"b":57,"v":3},{"z":42,"a":58,"b":58,"v":3.9},{"z":42,"a":59,"b":59,"v":4.3},{"z":42,"a":60,"b":62,"v":3.7},{"z":42,"a":63,"b":64,"v":2.6},{"z":42,"a":65,"b":66,"v":1.9},{"z":42,"a":67,"b":68,"v":1},{"z":42,"a":69,"b":69,"v":0.3},
{"z":43,"a":44,"b":47,"v":-0.4},{"z":43,"a":48,"b":48,"v":-1},{"z":43,"a":49,"b":50,"v":-2.3},{"z":43,"a":51,"b":51,"v":-1.6},{"z":43,"a":52,"b":53,"v":0.1},{"z":43,"a":54,"b":54,"v":1.8},{"z":43,"a":55,"b":55,"v":1.2},{"z":43,"a":56,"b":56,"v":2.6},{"z":43,"a":57,"b":57,"v":3},{"z":43,"a":58,"b":58,"v":3.7},{"z":43,"a":59,"b":61,"v":4},{"z":43,"a":62,"b":62,"v":3.8},{"z":43,"a":63,"b":64,"v":3},{"z":43,"a":65,"b":65,"v":2.2},{"z":43,"a":66,"b":67,"v":1.8},{"z":43,"a":68,"b":69,"v":1.2},{"z":43,"a":70,"b":70,"v":0.3},
{"z":44,"a":46,"b":48,"v":-2.2},{"z":44,"a":49,"b":51,"v":-2.85},{"z":44,"a":52,"b":52,"v":-1.5},{"z":44,"a":53,"b":53,"v":-0.7},{"z":44,"a":54,"b":54,"v":0.6},{"z":44,"a":55,"b":55,"v":1.8},{"z":44,"a":56,"b":56,"v":1.2},{"z":44,"a":57,"b":57,"v":2.5},{"z":44,"a":58,"b":58,"v":3},{"z":44,"a":59,"b":61,"v":3.6},{"z":44,"a":62,"b":63,"v":3.2},{"z":44,"a":64,"b":65,"v":2.7},{"z":44,"a":66,"b":71,"v":1.9},{"z":44,"a":72,"b":73,"v":0.3},
{"z":45,"a":47,"b":48,"v":-3},{"z":45,"a":49,"b":50,"v":-4.2},{"z":45,"a":51,"b":51,"v":-3.5},{"z":45,"a":52,"b":52,"v":-2},{"z":45,"a":53,"b":53,"v":-1.5},{"z":45,"a":54,"b":54,"v":-0.3},{"z":45,"a":55,"b":55,"v":1},{"z":45,"a":56,"b":56,"v":1.8},{"z":45,"a":57,"b":57,"v":2.5},{"z":45,"a":58,"b":59,"v":3},{"z":45,"a":60,"b":64,"v":3.15},{"z":45,"a":65,"b":65,"v":2.8},{"z":45,"a":66,"b":68,"v":1.9},{"z":45,"a":69,"b":71,"v":1.2},{"z":45,"a":72,"b":74,"v":0},
{"z":46,"a":48,"b":49,"v":-5.4},{"z":46,"a":50,"b":50,"v":-5},{"z":46,"a":51,"b":52,"v":-3.4},{"z":46,"a":53,"b":53,"v":-2.4},{"z":46,"a":54,"b":54,"v":-1.2},{"z":46,"a":55,"b":55,"v":0.2},{"z":46,"a":56,"b":56,"v":1},{"z":46,"a":57,"b":58,"v":1.8},{"z":46,"a":59,"b":59,"v":2.3},{"z":46,"a":60,"b":64,"v":3},{"z":46,"a":65,"b":66,"v":2.6},{"z":46,"a":67,"b":68,"v":1.8},{"z":46,"a":69,"b":70,"v":1.3},{"z":46,"a":71,"b":72,"v":0.3},{"z":46,"a":73,"b":74,"v":-0.5},{"z":46,"a":75,"b":76,"v":-1.4},
{"z":47,"a":49,"b":50,"v":-7.5},{"z":47,"a":51,"b":51,"v":-6.8},{"z":47,"a":52,"b":52,"v":-5.5},{"z":47,"a":53,"b":53,"v":-3.8},{"z":47,"a":54,"b":54,"v":-2.9},{"z":47,"a":55,"b":55,"v":-1.8},{"z":47,"a":56,"b":56,"v":-0.7},{"z":47,"a":57,"b":57,"v":0.3},{"z":47,"a":58,"b":58,"v":1.3},{"z":47,"a":59,"b":59,"v":1.8},{"z":47,"a":60,"b":61,"v":2.25},{"z":47,"a":62,"b":67,"v":2.6},{"z":47,"a":68,"b":69,"v":1.8},{"z":47,"a":70,"b":71,"v":1.2},{"z":47,"a":72,"b":73,"v":0.5},{"z":47,"a":74,"b":75,"v":-0.2},{"z":47,"a":76,"b":76,"v":-1},{"z":47,"a":77,"b":77,"v":-1.8},{"z":47,"a":78,"b":78,"v":-2.5},
{"z":48,"a":50,"b":50,"v":-9},{"z":48,"a":51,"b":51,"v":-7.8},{"z":48,"a":52,"b":52,"v":-5.8},{"z":48,"a":53,"b":53,"v":-4.6},{"z":48,"a":54,"b":54,"v":-3.7},{"z":48,"a":55,"b":56,"v":-2.6},{"z":48,"a":57,"b":57,"v":-1.4},{"z":48,"a":58,"b":58,"v":-0.2},{"z":48,"a":59,"b":59,"v":0.9},{"z":48,"a":60,"b":60,"v":1.4},{"z":48,"a":61,"b":62,"v":1.8},{"z":48,"a":63,"b":65,"v":2.2},{"z":48,"a":66,"b":66,"v":1.8},{"z":48,"a":67,"b":68,"v":1.5},{"z":48,"a":69,"b":70,"v":0.7},{"z":48,"a":71,"b":72,"v":0},{"z":48,"a":73,"b":74,"v":-0.7},{"z":48,"a":75,"b":76,"v":-1.8},{"z":48,"a":77,"b":78,"v":-4.5},{"z":48,"a":79,"b":79,"v":-8},{"z":48,"a":80,"b":80,"v":-9},{"z":48,"a":82,"b":82,"v":-12},
{"z":49,"a":51,"b":51,"v":-9.8},{"z":49,"a":53,"b":53,"v":-6.6},{"z":49,"a":54,"b":54,"v":-5.2},{"z":49,"a":55,"b":55,"v":-4},{"z":49,"a":56,"b":57,"v":-3},{"z":49,"a":58,"b":58,"v":-1.5},{"z":49,"a":59,"b":59,"v":-0.7},{"z":49,"a":60,"b":60,"v":0.4},{"z":49,"a":61,"b":61,"v":1},{"z":49,"a":62,"b":67,"v":1.4},{"z":49,"a":68,"b":69,"v":0.4},{"z":49,"a":70,"b":72,"v":-0.2},{"z":49,"a":73,"b":74,"v":-1},{"z":49,"a":75,"b":76,"v":-2},{"z":49,"a":77,"b":77,"v":-3.5},{"z":49,"a":78,"b":78,"v":-5.5},{"z":49,"a":79,"b":79,"v":-7.2},{"z":49,"a":80,"b":80,"v":-9.2},{"z":49,"a":81,"b":81,"v":-11},{"z":49,"a":82,"b":83,"v":-12},
{"z":50,"a":50,"b":50,"v":-14.2},{"z":50,"a":51,"b":51,"v":-12},{"z":50,"a":52,"b":52,"v":-10},{"z":50,"a":53,"b":53,"v":-7.8},{"z":50,"a":54,"b":54,"v":-6.8},{"z":50,"a":55,"b":55,"v":-5.5},{"z":50,"a":56,"b":56,"v":-4.5},{"z":50,"a":57,"b":57,"v":-3},{"z":50,"a":58,"b":58,"v":-2.3},{"z":50,"a":59,"b":59,"v":-1.6},{"z":50,"a":60,"b":62,"v":-1},{"z":50,"a":63,"b":64,"v":0},{"z":50,"a":65,"b":70,"v":0.5},{"z":50,"a":71,"b":72,"v":-0.5},{"z":50,"a":73,"b":74,"v":-1.6},{"z":50,"a":75,"b":75,"v":-3.5},{"z":50,"a":76,"b":76,"v":-4.5},{"z":50,"a":77,"b":77,"v":-6},{"z":50,"a":78,"b":78,"v":-7.6},{"z":50,"a":79,"b":79,"v":-9},{"z":50,"a":80,"b":80,"v":-10.5},{"z":50,"a":81,"b":81,"v":-12},{"z":50,"a":82,"b":82,"v":-13.7},{"z":50,"a":83,"b":83,"v":-13},{"z":50,"a":84,"b":85,"v":-12},
{"z":51,"a":53,"b":53,"v":-8},{"z":51,"a":54,"b":54,"v":-6.5},{"z":51,"a":55,"b":56,"v":-4.5},{"z":51,"a":57,"b":58,"v":-3.2},{"z":51,"a":59,"b":60,"v":-2.2},{"z":51,"a":61,"b":62,"v":-1},{"z":51,"a":63,"b":64,"v":0.5},{"z":51,"a":65,"b":69,"v":1.7},{"z":51,"a":70,"b":71,"v":1},{"z":51,"a":72,"b":74,"v":-0.3},{"z":51,"a":75,"b":76,"v":-2},{"z":51,"a":77,"b":77,"v":-5},{"z":51,"a":78,"b":78,"v":-6.5},{"z":51,"a":79,"b":79,"v":-8},{"z":51,"a":80,"b":80,"v":-9},{"z":51,"a":81,"b":81,"v":-10.5},{"z":51,"a":82,"b":83,"v":-12},{"z":51,"a":84,"b":84,"v":-9.8},{"z":51,"a":85,"b":85,"v":-10.3},{"z":51,"a":86,"b":86,"v":-8.4},
{"z":52,"a":53,"b":53,"v":-8.2},{"z":52,"a":54,"b":54,"v":-7},{"z":52,"a":55,"b":55,"v":-6},{"z":52,"a":56,"b":56,"v":-4.6},{"z":52,"a":57,"b":58,"v":-3.3},{"z":52,"a":59,"b":59,"v":-2},{"z":52,"a":60,"b":61,"v":-1},{"z":52,"a":62,"b":63,"v":0.5},{"z":52,"a":64,"b":64,"v":1.8},{"z":52,"a":65,"b":66,"v":2.6},{"z":52,"a":67,"b":67,"v":2.8},{"z":52,"a":68,"b":69,"v":2.2},{"z":52,"a":70,"b":71,"v":1.5},{"z":52,"a":72,"b":73,"v":0.3},{"z":52,"a":74,"b":75,"v":-1.2},{"z":52,"a":76,"b":77,"v":-2.9},{"z":52,"a":78,"b":78,"v":-4.5},{"z":52,"a":79,"b":79,"v":-6.3},{"z":52,"a":80,"b":80,"v":-7.6},{"z":52,"a":81,"b":81,"v":-8.8},{"z":52,"a":82,"b":82,"v":-10.3},{"z":52,"a":83,"b":83,"v":-9.8},{"z":52,"a":84,"b":84,"v":-8.8},{"z":52,"a":85,"b":85,"v":-7.6},{"z":52,"a":86,"b":86,"v":-6.5},{"z":52,"a":87,"b":87,"v":-5.8},{"z":52,"a":88,"b":88,"v":-5.2},
{"z":53,"a":55,"b":55,"v":-5.8},{"z":53,"a":56,"b":56,"v":-4.6},{"z":53,"a":57,"b":58,"v":-3.4},{"z":53,"a":59,"b":59,"v":-2.2},{"z":53,"a":60,"b":60,"v":-1},{"z":53,"a":62,"b":62,"v":0.7},{"z":53,"a":63,"b":64,"v":1.7},{"z":53,"a":65,"b":65,"v":2.4},{"z":53,"a":66,"b":68,"v":2.9},{"z":53,"a":69,"b":69,"v":2.3},{"z":53,"a":70,"b":71,"v":1.7},{"z":53,"a":72,"b":73,"v":0.6},{"z":53,"a":74,"b":75,"v":-0.8},{"z":53,"a":76,"b":77,"v":-2.5},{"z":53,"a":78,"b":78,"v":-3.9},{"z":53,"a":79,"b":79,"v":-5},{"z":53,"a":80,"b":80,"v":-6},{"z":53,"a":81,"b":81,"v":-7},{"z":53,"a":82,"b":82,"v":-8.6},{"z":53,"a":83,"b":83,"v":-7.8},{"z":53,"a":84,"b":84,"v":-6.8},{"z":53,"a":85,"b":87,"v":-5.6},{"z":53,"a":89,"b":89,"v":-3},
{"z":54,"a":55,"b":55,"v":-5.4},{"z":54,"a":56,"b":56,"v":-4.6},{"z":54,"a":57,"b":58,"v":-3.2},{"z":54,"a":59,"b":59,"v":-2.2},{"z":54,"a":60,"b":61,"v":-1},{"z":54,"a":62,"b":62,"v":0.6},{"z":54,"a":63,"b":63,"v":1.3},{"z":54,"a":64,"b":64,"v":1.9},{"z":54,"a":65,"b":68,"v":2.7},{"z":54,"a":69,"b":70,"v":2.1},{"z":54,"a":71,"b":72,"v":0.8},{"z":54,"a":73,"b":74,"v":-0.4},{"z":54,"a":75,"b":76,"v":-1.8},{"z":54,"a":77,"b":78,"v":-2.9},{"z":54,"a":79,"b":80,"v":-3.5},{"z":54,"a":81,"b":81,"v":-5},{"z":54,"a":82,"b":83,"v":-6.4},{"z":54,"a":84,"b":85,"v":-5},{"z":54,"a":86,"b":87,"v":-3.8},{"z":54,"a":88,"b":89,"v":-3},{"z":54,"a":90,"b":92,"v":-2.2},
{"z":55,"a":57,"b":58,"v":-3},{"z":55,"a":59,"b":59,"v":-2.2},{"z":55,"a":62,"b":63,"v":0.6},{"z":55,"a":64,"b":64,"v":1.5},{"z":55,"a":65,"b":66,"v":2},{"z":55,"a":67,"b":69,"v":2.4},{"z":55,"a":70,"b":71,"v":1.8},{"z":55,"a":72,"b":73,"v":0.5},{"z":55,"a":74,"b":75,"v":-0.5},{"z":55,"a":76,"b":77,"v":-1.8},{"z":55,"a":78,"b":80,"v":-2.9},{"z":55,"a":81,"b":81,"v":-3.7},{"z":55,"a":82,"b":83,"v":-4.5},{"z":55,"a":84,"b":86,"v":-3.6},{"z":55,"a":87,"b":89,"v":-2.8},{"z":55,"a":90,"b":91,"v":-1.7},{"z":55,"a":92,"b":93,"v":-0.9},
{"z":56,"a":58,"b":58,"v":-2.9},{"z":56,"a":61,"b":61,"v":-1},{"z":56,"a":63,"b":63,"v":0.1},{"z":56,"a":64,"b":64,"v":0.7},{"z":56,"a":65,"b":65,"v":1.3},{"z":56,"a":66,"b":69,"v":1.8},{"z":56,"a":70,"b":72,"v":1.4},{"z":56,"a":73,"b":74,"v":0.3},{"z":56,"a":75,"b":76,"v":-0.8},{"z":56,"a":77,"b":79,"v":-2.2},{"z":56,"a":80,"b":84,"v":-2.95},{"z":56,"a":85,"b":87,"v":-2.8},{"z":56,"a":88,"b":89,"v":-2.2},{"z":56,"a":90,"b":92,"v":-1.2},
{"z":57,"a":67,"b":67,"v":1.8},{"z":57,"a":68,"b":70,"v":2.3},{"z":57,"a":71,"b":72,"v":1.8},{"z":57,"a":73,"b":74,"v":0.6},{"z":57,"a":75,"b":76,"v":-0.5},{"z":57,"a":77,"b":78,"v":-1.6},{"z":57,"a":79,"b":80,"v":-2.4},{"z":57,"a":81,"b":84,"v":-2.9},{"z":57,"a":85,"b":87,"v":-2.3},{"z":57,"a":88,"b":89,"v":-1.2},{"z":57,"a":90,"b":92,"v":-0.2},
{"z":58,"a":68,"b":68,"v":0.8},{"z":58,"a":69,"b":71,"v":1.4},{"z":58,"a":72,"b":73,"v":1.6},{"z":58,"a":74,"b":74,"v":0.8},{"z":58,"a":75,"b":76,"v":-0.2},{"z":58,"a":77,"b":78,"v":-1},{"z":58,"a":79,"b":80,"v":-1.9},{"z":58,"a":81,"b":82,"v":-2.7},{"z":58,"a":83,"b":85,"v":-2.3},{"z":58,"a":86,"b":87,"v":-1.2},{"z":58,"a":88,"b":89,"v":0.1},{"z":58,"a":90,"b":91,"v":1.2},{"z":58,"a":92,"b":93,"v":0.8},
{"z":59,"a":69,"b":69,"v":0.9},{"z":59,"a":70,"b":73,"v":1.7},{"z":59,"a":74,"b":75,"v":0.8},{"z":59,"a":76,"b":77,"v":-0.2},{"z":59,"a":78,"b":79,"v":-1.2},{"z":59,"a":80,"b":81,"v":-2},{"z":59,"a":82,"b":83,"v":-2.8},{"z":59,"a":84,"b":85,"v":-1.9},{"z":59,"a":86,"b":87,"v":-0.6},{"z":59,"a":88,"b":89,"v":1},{"z":59,"a":90,"b":92,"v":1.8},{"z":59,"a":93,"b":94,"v":1},{"z":59,"a":95,"b":96,"v":0.4},
{"z":60,"a":70,"b":70,"v":1},{"z":60,"a":71,"b":73,"v":1.5},{"z":60,"a":74,"b":75,"v":1},{"z":60,"a":76,"b":77,"v":0},{"z":60,"a":78,"b":79,"v":-0.8},{"z":60,"a":80,"b":81,"v":-1.8},{"z":60,"a":82,"b":83,"v":-2.7},{"z":60,"a":84,"b":85,"v":-1.6},{"z":60,"a":86,"b":87,"v":0},{"z":60,"a":88,"b":89,"v":1.4},{"z":60,"a":90,"b":91,"v":2.2},{"z":60,"a":92,"b":93,"v":1.8},{"z":60,"a":94,"b":95,"v":1},{"z":60,"a":96,"b":97,"v":0.2},
{"z":61,"a":72,"b":75,"v":0.5},{"z":61,"a":76,"b":77,"v":0.2},{"z":61,"a":78,"b":79,"v":-0.6},{"z":61,"a":80,"b":81,"v":-1.5},{"z":61,"a":82,"b":83,"v":-2.5},{"z":61,"a":84,"b":85,"v":-1.2},{"z":61,"a":86,"b":86,"v":0.3},{"z":61,"a":87,"b":87,"v":1.2},{"z":61,"a":88,"b":89,"v":2},{"z":61,"a":90,"b":91,"v":3},{"z":61,"a":92,"b":93,"v":2.4},{"z":61,"a":94,"b":95,"v":1.2},{"z":61,"a":96,"b":98,"v":0.2},
{"z":62,"a":73,"b":75,"v":0.4},{"z":62,"a":76,"b":77,"v":-0.2},{"z":62,"a":78,"b":79,"v":-0.8},{"z":62,"a":80,"b":81,"v":-1.8},{"z":62,"a":82,"b":83,"v":-2.5},{"z":62,"a":84,"b":84,"v":-1},{"z":62,"a":85,"b":86,"v":0.5},{"z":62,"a":87,"b":87,"v":1.8},{"z":62,"a":88,"b":89,"v":2.6},{"z":62,"a":90,"b":91,"v":3.3},{"z":62,"a":92,"b":93,"v":2.5},{"z":62,"a":94,"b":96,"v":1.2},{"z":62,"a":97,"b":100,"v":0.2},
{"z":63,"a":75,"b":77,"v":0.3},{"z":63,"a":78,"b":79,"v":-0.8},{"z":63,"a":80,"b":81,"v":-1.9},{"z":63,"a":82,"b":83,"v":-2.7},{"z":63,"a":84,"b":85,"v":-0.9},{"z":63,"a":86,"b":87,"v":1},{"z":63,"a":88,"b":88,"v":2.2},{"z":63,"a":89,"b":91,"v":3.6},{"z":63,"a":92,"b":92,"v":2.5},{"z":63,"a":93,"b":95,"v":1.7},{"z":63,"a":96,"b":99,"v":0.4},
{"z":64,"a":76,"b":77,"v":-0.4},{"z":64,"a":78,"b":79,"v":-1.2},{"z":64,"a":80,"b":81,"v":-2.1},{"z":64,"a":82,"b":83,"v":-2.8},{"z":64,"a":84,"b":85,"v":-1},{"z":64,"a":86,"b":86,"v":0.7},{"z":64,"a":87,"b":87,"v":1.8},{"z":64,"a":88,"b":90,"v":3.3},{"z":64,"a":91,"b":92,"v":2.6},{"z":64,"a":93,"b":95,"v":1.7},{"z":64,"a":96,"b":99,"v":0.3},
{"z":65,"a":75,"b":77,"v":-0.6},{"z":65,"a":78,"b":79,"v":-1.4},{"z":65,"a":80,"b":81,"v":-2.5},{"z":65,"a":82,"b":83,"v":-3},{"z":65,"a":84,"b":85,"v":-1.4},{"z":65,"a":86,"b":86,"v":0.3},{"z":65,"a":87,"b":88,"v":1.6},{"z":65,"a":89,"b":91,"v":2.7},{"z":65,"a":92,"b":93,"v":2.1},{"z":65,"a":94,"b":96,"v":1.5},{"z":65,"a":97,"b":99,"v":0.5},{"z":65,"a":101,"b":101,"v":0.1},
{"z":66,"a":77,"b":78,"v":-1.6},{"z":66,"a":79,"b":81,"v":-2.6},{"z":66,"a":82,"b":83,"v":-2.9},{"z":66,"a":84,"b":84,"v":-2},{"z":66,"a":85,"b":85,"v":-0.6},{"z":66,"a":86,"b":87,"v":1},{"z":66,"a":88,"b":89,"v":1.8},{"z":66,"a":90,"b":92,"v":2.3},{"z":66,"a":93,"b":95,"v":1.5},{"z":66,"a":96,"b":99,"v":0.7},{"z":66,"a":100,"b":103,"v":0.2},
{"z":67,"a":77,"b":78,"v":-1.9},{"z":67,"a":79,"b":81,"v":-2.8},{"z":67,"a":82,"b":83,"v":-3},{"z":67,"a":84,"b":84,"v":-2},{"z":67,"a":85,"b":86,"v":-0.5},{"z":67,"a":87,"b":88,"v":0.7},{"z":67,"a":89,"b":89,"v":1.6},{"z":67,"a":90,"b":94,"v":2},{"z":67,"a":95,"b":97,"v":1.6},{"z":67,"a":98,"b":100,"v":0.8},{"z":67,"a":101,"b":104,"v":0.2},
{"z":68,"a":78,"b":80,"v":-2.7},{"z":68,"a":81,"b":83,"v":-3},{"z":68,"a":84,"b":84,"v":-2.3},{"z":68,"a":85,"b":86,"v":-1},{"z":68,"a":87,"b":88,"v":0.1},{"z":68,"a":89,"b":90,"v":0.9},{"z":68,"a":91,"b":93,"v":1.2},{"z":68,"a":94,"b":96,"v":1.8},{"z":68,"a":97,"b":100,"v":0.9},{"z":68,"a":101,"b":104,"v":0.1},
{"z":69,"a":78,"b":79,"v":-2.9},{"z":69,"a":82,"b":84,"v":-3},{"z":69,"a":85,"b":86,"v":-1.5},{"z":69,"a":87,"b":88,"v":-0.4},{"z":69,"a":89,"b":92,"v":0.6},{"z":69,"a":93,"b":97,"v":1.6},{"z":69,"a":98,"b":100,"v":1},{"z":69,"a":101,"b":104,"v":0.3},{"z":69,"a":105,"b":107,"v":-0.3},
{"z":70,"a":81,"b":82,"v":-5},{"z":70,"a":84,"b":85,"v":-3.2},{"z":70,"a":86,"b":87,"v":-2},{"z":70,"a":88,"b":89,"v":-1},{"z":70,"a":90,"b":92,"v":0.2},{"z":70,"a":93,"b":97,"v":1.3},{"z":70,"a":98,"b":101,"v":1},{"z":70,"a":102,"b":105,"v":0.2},{"z":70,"a":106,"b":108,"v":-0.4},
{"z":71,"a":82,"b":82,"v":-5},{"z":71,"a":84,"b":85,"v":-3.2},{"z":71,"a":86,"b":87,"v":-2.4},{"z":71,"a":88,"b":89,"v":-1},{"z":71,"a":90,"b":92,"v":0},{"z":71,"a":93,"b":101,"v":1.15},{"z":71,"a":102,"b":106,"v":0.3},{"z":71,"a":107,"b":109,"v":0.5},{"z":71,"a":111,"b":111,"v":1.3},
{"z":72,"a":84,"b":84,"v":-5.2},{"z":72,"a":86,"b":87,"v":-2.7},{"z":72,"a":88,"b":89,"v":-1.5},{"z":72,"a":90,"b":92,"v":-0.3},{"z":72,"a":93,"b":96,"v":0.9},{"z":72,"a":97,"b":100,"v":1.5},{"z":72,"a":101,"b":104,"v":0.8},{"z":72,"a":105,"b":108,"v":0.3},{"z":72,"a":109,"b":112,"v":0.8},{"z":72,"a":113,"b":114,"v":1.4},
{"z":73,"a":84,"b":84,"v":-5.2},{"z":73,"a":86,"b":87,"v":-2.8},{"z":73,"a":88,"b":89,"v":-1.9},{"z":73,"a":90,"b":91,"v":-0.6},{"z":73,"a":92,"b":95,"v":0.9},{"z":73,"a":96,"b":100,"v":1.6},{"z":73,"a":101,"b":103,"v":1},{"z":73,"a":104,"b":104,"v":0.6},{"z":73,"a":106,"b":108,"v":-0.2},{"z":73,"a":109,"b":112,"v":0.1},{"z":73,"a":113,"b":115,"v":0.6},
{"z":74,"a":86,"b":86,"v":-5.2},{"z":74,"a":88,"b":89,"v":-2.8},{"z":74,"a":90,"b":91,"v":-1.4},{"z":74,"a":92,"b":94,"v":0},{"z":74,"a":95,"b":99,"v":0.9},{"z":74,"a":100,"b":103,"v":0.7},{"z":74,"a":104,"b":112,"v":-0.2},{"z":74,"a":113,"b":117,"v":0.1},
{"z":75,"a":86,"b":86,"v":-4.6},{"z":75,"a":88,"b":90,"v":-2.9},{"z":75,"a":91,"b":91,"v":-2.3},{"z":75,"a":93,"b":95,"v":-0.8},{"z":75,"a":96,"b":104,"v":0.4},{"z":75,"a":105,"b":108,"v":-0.4},{"z":75,"a":109,"b":114,"v":-0.5},{"z":75,"a":115,"b":118,"v":-0.3},
{"z":76,"a":88,"b":88,"v":-5.2},{"z":76,"a":90,"b":92,"v":-2.9},{"z":76,"a":93,"b":94,"v":-1.6},{"z":76,"a":95,"b":97,"v":-0.6},{"z":76,"a":98,"b":105,"v":0.25},{"z":76,"a":106,"b":110,"v":-0.5},{"z":76,"a":111,"b":114,"v":-0.9},{"z":76,"a":115,"b":118,"v":-1.7},{"z":76,"a":119,"b":120,"v":-2.4},
{"z":77,"a":90,"b":92,"v":-3.3},{"z":77,"a":94,"b":95,"v":-1.8},{"z":77,"a":96,"b":98,"v":-0.8},{"z":77,"a":99,"b":103,"v":0.3},{"z":77,"a":104,"b":108,"v":-0.3},{"z":77,"a":109,"b":112,"v":-0.9},{"z":77,"a":113,"b":116,"v":-1.8},{"z":77,"a":117,"b":119,"v":-2.6},{"z":77,"a":121,"b":121,"v":-3.8},
{"z":78,"a":90,"b":90,"v":-5.2},{"z":78,"a":92,"b":93,"v":-2.9},{"z":78,"a":94,"b":95,"v":-2},{"z":78,"a":96,"b":98,"v":-1},{"z":78,"a":99,"b":101,"v":-0.2},{"z":78,"a":102,"b":106,"v":0.1},{"z":78,"a":107,"b":109,"v":-0.1},{"z":78,"a":110,"b":112,"v":-0.6},{"z":78,"a":113,"b":115,"v":-1.9},{"z":78,"a":116,"b":118,"v":-2.9},{"z":78,"a":119,"b":121,"v":-3.8},{"z":78,"a":122,"b":124,"v":-4.8},
{"z":79,"a":92,"b":94,"v":-3.1},{"z":79,"a":96,"b":97,"v":-1.8},{"z":79,"a":98,"b":100,"v":-0.8},{"z":79,"a":101,"b":104,"v":-0.3},{"z":79,"a":105,"b":109,"v":-0.1},{"z":79,"a":110,"b":111,"v":-0.7},{"z":79,"a":112,"b":114,"v":-2},{"z":79,"a":115,"b":116,"v":-2.9},{"z":79,"a":117,"b":118,"v":-3.3},{"z":79,"a":119,"b":120,"v":-4.6},{"z":79,"a":121,"b":122,"v":-6},{"z":79,"a":123,"b":124,"v":-7.4},
{"z":80,"a":92,"b":92,"v":-5.2},{"z":80,"a":94,"b":96,"v":-2.9},{"z":80,"a":97,"b":99,"v":-1.6},{"z":80,"a":100,"b":103,"v":-0.9},{"z":80,"a":104,"b":107,"v":-0.5},{"z":80,"a":108,"b":110,"v":-0.9},{"z":80,"a":111,"b":113,"v":-2.2},{"z":80,"a":114,"b":116,"v":-2.9},{"z":80,"a":117,"b":118,"v":-3.8},{"z":80,"a":119,"b":120,"v":-5.4},{"z":80,"a":121,"b":121,"v":-6.5},{"z":80,"a":122,"b":123,"v":-7.5},{"z":80,"a":124,"b":124,"v":-7.9},{"z":80,"a":125,"b":126,"v":-8.3},{"z":80,"a":127,"b":127,"v":-8},{"z":80,"a":128,"b":128,"v":-5.8},
{"z":81,"a":95,"b":96,"v":-2.9},{"z":81,"a":98,"b":99,"v":-1.9},{"z":81,"a":100,"b":102,"v":-1.4},{"z":81,"a":103,"b":106,"v":-0.9},{"z":81,"a":107,"b":108,"v":-0.7},{"z":81,"a":110,"b":111,"v":-1.4},{"z":81,"a":112,"b":114,"v":-2.7},{"z":81,"a":115,"b":116,"v":-3.2},{"z":81,"a":117,"b":118,"v":-4.6},{"z":81,"a":119,"b":120,"v":-5.6},{"z":81,"a":121,"b":122,"v":-6.8},{"z":81,"a":123,"b":123,"v":-8},{"z":81,"a":124,"b":124,"v":-8.6},{"z":81,"a":125,"b":126,"v":-9.8},{"z":81,"a":127,"b":127,"v":-8.3},{"z":81,"a":128,"b":128,"v":-7.2},{"z":81,"a":129,"b":129,"v":-5},{"z":81,"a":130,"b":130,"v":-2.9},{"z":81,"a":132,"b":132,"v":-2.2},
{"z":82,"a":96,"b":98,"v":-3},{"z":82,"a":99,"b":100,"v":-2.1},{"z":82,"a":101,"b":103,"v":-1.6},{"z":82,"a":104,"b":107,"v":-1.2},{"z":82,"a":108,"b":110,"v":-1.5},{"z":82,"a":111,"b":112,"v":-2.5},{"z":82,"a":113,"b":115,"v":-2.9},{"z":82,"a":116,"b":117,"v":-3.4},{"z":82,"a":118,"b":119,"v":-4.4},{"z":82,"a":120,"b":121,"v":-5.3},{"z":82,"a":122,"b":122,"v":-6.5},{"z":82,"a":123,"b":123,"v":-7.6},{"z":82,"a":124,"b":124,"v":-8.3},{"z":82,"a":125,"b":125,"v":-9},{"z":82,"a":126,"b":126,"v":-10.7},{"z":82,"a":127,"b":127,"v":-9},{"z":82,"a":128,"b":128,"v":-7.8},{"z":82,"a":129,"b":129,"v":-6},{"z":82,"a":130,"b":130,"v":-4.5},{"z":82,"a":131,"b":132,"v":-3},
{"z":83,"a":101,"b":101,"v":-3},{"z":83,"a":103,"b":104,"v":-2.4},{"z":83,"a":105,"b":107,"v":-1.8},{"z":83,"a":108,"b":110,"v":-1.6},{"z":83,"a":112,"b":113,"v":-2.2},{"z":83,"a":114,"b":116,"v":-2.9},{"z":83,"a":117,"b":118,"v":-3.3},{"z":83,"a":119,"b":121,"v":-4.4},{"z":83,"a":122,"b":122,"v":-5.5},{"z":83,"a":123,"b":123,"v":-6.5},{"z":83,"a":124,"b":125,"v":-7.7},{"z":83,"a":126,"b":126,"v":-8.4},{"z":83,"a":127,"b":127,"v":-7.8},{"z":83,"a":128,"b":128,"v":-6.2},{"z":83,"a":129,"b":129,"v":-5},{"z":83,"a":130,"b":130,"v":-3},{"z":83,"a":131,"b":131,"v":-2},{"z":83,"a":132,"b":132,"v":-1},{"z":83,"a":133,"b":133,"v":0.2},{"z":83,"a":134,"b":134,"v":1.2},{"z":83,"a":135,"b":135,"v":2},
{"z":84,"a":102,"b":104,"v":-2.6},{"z":84,"a":105,"b":112,"v":-1.9},{"z":84,"a":113,"b":116,"v":-2.4},{"z":84,"a":117,"b":118,"v":-2.9},{"z":84,"a":119,"b":121,"v":-3.2},{"z":84,"a":122,"b":123,"v":-4.3},{"z":84,"a":124,"b":125,"v":-5.5},{"z":84,"a":126,"b":126,"v":-6.5},{"z":84,"a":127,"b":127,"v":-5.8},{"z":84,"a":128,"b":128,"v":-4.5},{"z":84,"a":129,"b":129,"v":-3},{"z":84,"a":130,"b":130,"v":-1.9},{"z":84,"a":131,"b":131,"v":-0.5},{"z":84,"a":132,"b":133,"v":0.8},{"z":84,"a":134,"b":134,"v":1.8},{"z":84,"a":135,"b":135,"v":2.2},{"z":84,"a":136,"b":136,"v":3},{"z":84,"a":137,"b":137,"v":3.4},{"z":84,"a":138,"b":138,"v":4.4},
{"z":85,"a":106,"b":108,"v":-2.4},{"z":85,"a":109,"b":112,"v":-2.2},{"z":85,"a":114,"b":116,"v":-2.7},{"z":85,"a":117,"b":120,"v":-3},{"z":85,"a":121,"b":124,"v":-3.3},{"z":85,"a":125,"b":126,"v":-4.2},{"z":85,"a":127,"b":127,"v":-4},{"z":85,"a":128,"b":129,"v":-3},{"z":85,"a":130,"b":130,"v":-1.9},{"z":85,"a":131,"b":131,"v":-0.7},{"z":85,"a":132,"b":133,"v":0.7},{"z":85,"a":134,"b":134,"v":1.8},{"z":85,"a":135,"b":135,"v":2.2},{"z":85,"a":136,"b":136,"v":3.4},{"z":85,"a":137,"b":137,"v":4},{"z":85,"a":138,"b":138,"v":4.6},{"z":85,"a":139,"b":139,"v":5.6},
{"z":86,"a":107,"b":114,"v":-2.3},{"z":86,"a":115,"b":128,"v":-3},{"z":86,"a":129,"b":129,"v":-2.3},{"z":86,"a":130,"b":130,"v":-1.2},{"z":86,"a":131,"b":131,"v":0.1},{"z":86,"a":132,"b":132,"v":1},{"z":86,"a":133,"b":133,"v":1.5},{"z":86,"a":134,"b":134,"v":2},{"z":86,"a":135,"b":135,"v":2.7},{"z":86,"a":136,"b":136,"v":3.3},{"z":86,"a":137,"b":137,"v":4.2},{"z":86,"a":138,"b":139,"v":4.9},{"z":86,"a":140,"b":143,"v":6},
{"z":87,"a":112,"b":114,"v":-2},{"z":87,"a":116,"b":118,"v":-2.5},{"z":87,"a":119,"b":128,"v":-2.95},{"z":87,"a":129,"b":130,"v":-1.9},{"z":87,"a":131,"b":131,"v":-0.5},{"z":87,"a":132,"b":132,"v":0.7},{"z":87,"a":133,"b":133,"v":1.5},{"z":87,"a":134,"b":134,"v":1.9},{"z":87,"a":135,"b":135,"v":2.9},{"z":87,"a":136,"b":136,"v":3.4},{"z":87,"a":137,"b":137,"v":4.3},{"z":87,"a":138,"b":139,"v":5.1},{"z":87,"a":140,"b":141,"v":5.7},{"z":87,"a":142,"b":144,"v":6},
{"z":88,"a":114,"b":116,"v":-1.9},{"z":88,"a":117,"b":120,"v":-2.5},{"z":88,"a":121,"b":127,"v":-2.9},{"z":88,"a":128,"b":128,"v":-2.5},{"z":88,"a":129,"b":129,"v":-1.8},{"z":88,"a":130,"b":130,"v":-0.7},{"z":88,"a":131,"b":131,"v":0},{"z":88,"a":132,"b":132,"v":0.9},{"z":88,"a":133,"b":134,"v":1.85},{"z":88,"a":135,"b":135,"v":2.9},{"z":88,"a":136,"b":136,"v":3.4},{"z":88,"a":137,"b":137,"v":4.1},{"z":88,"a":138,"b":138,"v":4.8},{"z":88,"a":139,"b":140,"v":5.3},{"z":88,"a":141,"b":143,"v":5.8},{"z":88,"a":144,"b":146,"v":6},
{"z":89,"a":117,"b":120,"v":-2.5},{"z":89,"a":121,"b":127,"v":-2.9},{"z":89,"a":128,"b":129,"v":-1.9},{"z":89,"a":130,"b":130,"v":-1},{"z":89,"a":131,"b":131,"v":0},{"z":89,"a":132,"b":133,"v":1.4},{"z":89,"a":134,"b":134,"v":1.9},{"z":89,"a":135,"b":136,"v":2.8},{"z":89,"a":137,"b":137,"v":3.6},{"z":89,"a":138,"b":138,"v":4.1},{"z":89,"a":139,"b":140,"v":4.9},{"z":89,"a":141,"b":143,"v":5.4},{"z":89,"a":144,"b":147,"v":6},
{"z":90,"a":118,"b":120,"v":-2.6},{"z":90,"a":121,"b":125,"v":-2.9},{"z":90,"a":126,"b":127,"v":-2.7},{"z":90,"a":128,"b":129,"v":-1.5},{"z":90,"a":130,"b":130,"v":-0.5},{"z":90,"a":131,"b":131,"v":0.5},{"z":90,"a":132,"b":133,"v":1.8},{"z":90,"a":134,"b":135,"v":2.4},{"z":90,"a":136,"b":136,"v":3},{"z":90,"a":137,"b":137,"v":3.6},{"z":90,"a":138,"b":140,"v":4.2},{"z":90,"a":141,"b":142,"v":4.9},{"z":90,"a":143,"b":144,"v":5.4},{"z":90,"a":145,"b":147,"v":5.9},
{"z":91,"a":121,"b":125,"v":-2.7},{"z":91,"a":126,"b":127,"v":-2.1},{"z":91,"a":128,"b":128,"v":-0.8},{"z":91,"a":130,"b":130,"v":1.8},{"z":91,"a":132,"b":132,"v":2},{"z":91,"a":133,"b":134,"v":2.5},{"z":91,"a":135,"b":135,"v":2.9},{"z":91,"a":136,"b":137,"v":3.3},{"z":91,"a":138,"b":139,"v":3.7},{"z":91,"a":140,"b":143,"v":4.5},{"z":91,"a":144,"b":145,"v":5.1},{"z":91,"a":146,"b":147,"v":5.5},
{"z":92,"a":126,"b":127,"v":-2},{"z":92,"a":131,"b":131,"v":1.8},{"z":92,"a":132,"b":133,"v":2.4},{"z":92,"a":134,"b":135,"v":2.7},{"z":92,"a":136,"b":141,"v":3.2},{"z":92,"a":142,"b":143,"v":3.7},{"z":92,"a":144,"b":145,"v":4.2},{"z":92,"a":146,"b":147,"v":5},{"z":92,"a":148,"b":148,"v":5.6},
{"z":93,"a":132,"b":132,"v":2.8},{"z":93,"a":134,"b":138,"v":3},{"z":93,"a":140,"b":141,"v":2.8},{"z":93,"a":142,"b":145,"v":3.2},{"z":93,"a":146,"b":147,"v":3.9},{"z":93,"a":148,"b":149,"v":4.8},
{"z":94,"a":134,"b":136,"v":2.6},{"z":94,"a":137,"b":140,"v":2.8},{"z":94,"a":141,"b":145,"v":3},{"z":94,"a":146,"b":147,"v":3.6},{"z":94,"a":148,"b":149,"v":4.5},{"z":94,"a":150,"b":151,"v":5},{"z":94,"a":152,"b":152,"v":5.8},
{"z":95,"a":140,"b":140,"v":2.2},{"z":95,"a":143,"b":143,"v":2},{"z":95,"a":144,"b":145,"v":2.5},{"z":95,"a":146,"b":147,"v":2.9},{"z":95,"a":148,"b":149,"v":3.6},{"z":95,"a":150,"b":150,"v":4.6},
{"z":96,"a":137,"b":138,"v":2},{"z":96,"a":140,"b":142,"v":1.9},{"z":96,"a":143,"b":144,"v":2.3},{"z":96,"a":145,"b":146,"v":2.7},{"z":96,"a":147,"b":149,"v":3.3},{"z":96,"a":150,"b":151,"v":3.9},{"z":96,"a":152,"b":153,"v":4.6},{"z":96,"a":154,"b":154,"v":5.6},{"z":96,"a":155,"b":155,"v":6},
{"z":97,"a":146,"b":148,"v":2.6},{"z":97,"a":149,"b":149,"v":3.2},{"z":97,"a":150,"b":150,"v":3.6},{"z":97,"a":152,"b":153,"v":4.3},{"z":97,"a":154,"b":154,"v":5.4},
{"z":98,"a":139,"b":139,"v":1.9},{"z":98,"a":142,"b":142,"v":1.9},{"z":98,"a":144,"b":144,"v":1.9},{"z":98,"a":146,"b":148,"v":1.9},{"z":98,"a":149,"b":150,"v":2.5},{"z":98,"a":151,"b":152,"v":3},{"z":98,"a":153,"b":154,"v":4.3},{"z":98,"a":155,"b":156,"v":5.5},
{"z":99,"a":148,"b":148,"v":2},{"z":99,"a":152,"b":152,"v":2.6},{"z":99,"a":153,"b":153,"v":3},{"z":99,"a":154,"b":154,"v":3.6},{"z":99,"a":155,"b":155,"v":4.2},{"z":99,"a":156,"b":156,"v":5},
{"z":100,"a":146,"b":146,"v":1.3},{"z":100,"a":148,"b":149,"v":1.5},{"z":100,"a":150,"b":152,"v":1.9},{"z":100,"a":153,"b":153,"v":2.5},{"z":100,"a":154,"b":154,"v":3},{"z":100,"a":155,"b":155,"v":3.6},{"z":100,"a":156,"b":157,"v":4.6},
{"z":101,"a":150,"b":150,"v":1},{"z":101,"a":154,"b":154,"v":2.5},{"z":101,"a":156,"b":157,"v":3.8},
{"z":102,"a":150,"b":151,"v":1},{"z":102,"a":152,"b":153,"v":1.6},{"z":102,"a":154,"b":154,"v":1.9},{"z":102,"a":155,"b":155,"v":2.5},
{"z":103,"a":152,"b":153,"v":0.4},{"z":104,"a":152,"b":153,"v":0.6},{"z":104,"a":154,"b":154,"v":1},{"z":104,"a":157,"b":157,"v":2.5},{"z":105,"a":154,"b":154,"v":-0.2},{"z":106,"a":154,"b":155,"v":-0.3},{"z":106,"a":156,"b":156,"v":0.7},{"z":108,"a":156,"b":157,"v":-0.2},{"z":108,"a":158,"b":158,"v":0.3},{"z":110,"a":159,"b":159,"v":-0.2},{"z":110,"a":160,"b":160,"v":0.3}]
},
"layer":[
{"data":{"name":"magicV"},"mark":{"type":"rule","color":"#808080","strokeWidth":3.5,"strokeDash":[1.4,1.6]},"encoding":{"x":{"field":"n","type":"quantitative","scale":{"domain":[0,161],"nice":false,"zero":false},"axis":{"values":[0,20,40,60,80,100,120,140,160],"title":"Neutron Number","titleFont":"Liberation Sans","titleFontSize":68,"titleFontWeight":"normal","titleColor":"black","titleAlign":"left","titleAnchor":"start","titleBaseline":"alphabetic","titleX":401,"titleY":160,"labelFont":"Liberation Sans","labelFontSize":66,"labelColor":"black","labelPadding":73,"labelOverlap":false,"labelFlush":false,"tickColor":"black","tickWidth":3.5,"tickSize":-46,"domain":false,"grid":false}},"y":{"field":"z0","type":"quantitative","scale":{"domain":[0,110.9],"nice":false,"zero":false},"axis":{"values":[0,20,40,60,80,100],"title":"Proton Number","titleFont":"Liberation Sans","titleFontSize":67,"titleFontWeight":"normal","titleColor":"black","titleAngle":270,"titleAlign":"left","titleAnchor":"start","titleBaseline":"alphabetic","titleX":-122,"titleY":727,"labelFont":"Liberation Sans","labelFontSize":66,"labelColor":"black","labelPadding":71,"labelOverlap":false,"tickColor":"black","tickWidth":3.5,"tickSize":-48,"domain":false,"grid":false}},"y2":{"field":"z1"}}},
{"data":{"name":"magicH"},"mark":{"type":"rule","color":"#808080","strokeWidth":3.5,"strokeDash":[1.4,1.6]},"encoding":{"y":{"field":"z","type":"quantitative"},"x":{"field":"n0","type":"quantitative"},"x2":{"field":"n1"}}},
{"data":{"name":"gray"},"mark":{"type":"rect","fill":"#787878","stroke":"#9c9c9c","strokeWidth":0.8,"xOffset":-3.2,"x2Offset":5.2,"yOffset":-2.7,"y2Offset":5.7},"encoding":{"x":{"field":"a","type":"quantitative"},"x2":{"field":"b"},"y":{"field":"z","type":"quantitative"},"y2":{"field":"z"}}},
{"data":{"name":"teeth"},"mark":{"type":"rect","fill":"#787878","stroke":"#9c9c9c","strokeWidth":0.8,"xOffset":-3.2,"x2Offset":5.2,"yOffset":-2.7,"y2Offset":5.7},"encoding":{"x":{"field":"n","type":"quantitative"},"x2":{"field":"n"},"y":{"field":"z1","type":"quantitative"},"y2":{"field":"z0"}}},
{"data":{"name":"gray"},"mark":{"type":"rect","fillOpacity":0,"stroke":"#9c9c9c","strokeWidth":0.8,"xOffset":-3.2,"x2Offset":5.2,"yOffset":-2.7,"y2Offset":5.7},"encoding":{"x":{"field":"a","type":"quantitative"},"x2":{"field":"b"},"y":{"field":"z","type":"quantitative"},"y2":{"field":"z"}}},
{"data":{"name":"ticksV"},"mark":{"type":"rule","color":"black","strokeWidth":3.5},"encoding":{"x":{"field":"n","type":"quantitative"},"y":{"field":"z0","type":"quantitative"},"y2":{"field":"z1"}}},
{"data":{"name":"ticksH"},"mark":{"type":"rule","color":"black","strokeWidth":3.5},"encoding":{"y":{"field":"z","type":"quantitative"},"x":{"field":"n0","type":"quantitative"},"x2":{"field":"n1"}}},
{"data":{"name":"cells"},"mark":{"type":"rect","xOffset":-3.2,"x2Offset":5.2,"yOffset":-2.7,"y2Offset":5.7},"encoding":{"x":{"field":"a","type":"quantitative"},"x2":{"field":"b"},"y":{"field":"z","type":"quantitative"},"y2":{"field":"z"},"color":{"field":"v","type":"quantitative","scale":{"domain":[-14.3,-12,-7.6,-2.86,1.79,6.07],"range":["#7f00ff","#0000ff","#00ffff","#00ff00","#ffff00","#ff0000"],"interpolate":"rgb","clamp":true},"legend":{"orient":"none","legendX":857,"legendY":740,"direction":"horizontal","title":null,"gradientLength":425,"gradientThickness":56,"gradientStrokeColor":"black","gradientStrokeWidth":2.5,"values":[-10,-5,0,5],"labelExpr":"replace(datum.label,'\u2212','-')","labelFont":"Liberation Sans","labelFontSize":35,"labelColor":"black","labelOffset":39,"tickCount":4}}}},
{"data":{"values":[{"n0":83,"z0":47.8,"n1":98,"z1":38.8},{"n0":125.4,"z0":79.1,"n1":135.7,"z1":59.5}]},"mark":{"type":"rule","color":"black","strokeWidth":4.5},"encoding":{"x":{"field":"n0","type":"quantitative"},"x2":{"field":"n1"},"y":{"field":"z0","type":"quantitative"},"y2":{"field":"z1"}}},
{"data":{"values":[{"n0":3.9,"n1":68.8,"z0":77.4,"z1":80.6}]},"mark":{"type":"rect","fill":"white"},"encoding":{"x":{"field":"n0","type":"quantitative"},"x2":{"field":"n1"},"y":{"field":"z0","type":"quantitative"},"y2":{"field":"z1"}}},
{"data":{"values":[{"n0":3.9,"n1":68.8,"z0":59.9,"z1":77.4},{"n0":95,"n1":157.2,"z0":7.85,"z1":24.9},{"n0":162.1,"n1":180,"z0":25.1,"z1":100.1}]},"mark":{"type":"rect","fill":"white","stroke":"black","strokeWidth":2.5},"encoding":{"x":{"field":"n0","type":"quantitative"},"x2":{"field":"n1"},"y":{"field":"z0","type":"quantitative"},"y2":{"field":"z1"}}},
{"data":{"name":"ticksBar"},"mark":{"type":"rule","color":"black","strokeWidth":3.5},"encoding":{"x":{"field":"n","type":"quantitative"},"y":{"field":"z0","type":"quantitative"},"y2":{"field":"z1"}}},
{"data":{"values":[{"n0":161.2,"n1":161.7,"z0":75,"z1":111}]},"mark":{"type":"rect","fill":"#b0b0b0"},"encoding":{"x":{"field":"n0","type":"quantitative"},"x2":{"field":"n1"},"y":{"field":"z0","type":"quantitative"},"y2":{"field":"z1"}}},
{"data":{"values":[{"n":165.3,"z":93}]},"mark":{"type":"point","filled":true,"color":"black","size":280,"opacity":1},"encoding":{"x":{"field":"n","type":"quantitative"},"y":{"field":"z","type":"quantitative"}}},
{"data":{"values":[{"n":-14.5,"z":81,"t":"Z"}]},"mark":{"type":"text","font":"Liberation Sans","fontStyle":"italic","fontSize":67,"angle":270,"align":"left","baseline":"alphabetic","color":"black"},"encoding":{"x":{"field":"n","type":"quantitative"},"y":{"field":"z","type":"quantitative"},"text":{"field":"t"}}},
{"data":{"values":[{"n":109,"z":-19,"t":"N"}]},"mark":{"type":"text","font":"Liberation Sans","fontStyle":"italic","fontSize":67,"align":"left","baseline":"alphabetic","color":"black"},"encoding":{"x":{"field":"n","type":"quantitative"},"y":{"field":"z","type":"quantitative"},"text":{"field":"t"}}},
{"data":{"values":[{"n":8.6,"z":92.75,"t":"M"},{"n":54.5,"z":92.75,"t":"M"}]},"mark":{"type":"text","font":"Liberation Sans","fontStyle":"italic","fontSize":118,"align":"left","baseline":"alphabetic","color":"black"},"encoding":{"x":{"field":"n","type":"quantitative"},"y":{"field":"z","type":"quantitative"},"text":{"field":"t"}}},
{"data":{"values":[{"n":20,"z":92.75,"t":"exp."},{"n":65.8,"z":92.75,"t":"WB"}]},"mark":{"type":"text","font":"Liberation Sans","fontSize":80,"align":"left","baseline":"alphabetic","color":"black"},"encoding":{"x":{"field":"n","type":"quantitative"},"y":{"field":"z","type":"quantitative"},"text":{"field":"t"}}},
{"data":{"values":[{"n":42.3,"z":93,"t":"–"}]},"mark":{"type":"text","font":"Liberation Sans","fontWeight":"bold","fontSize":106,"align":"left","baseline":"alphabetic","color":"black"},"encoding":{"x":{"field":"n","type":"quantitative"},"y":{"field":"z","type":"quantitative"},"text":{"field":"t"}}},
{"data":{"values":[{"n":41.6,"z":84,"t":"="}]},"mark":{"type":"text","font":"Liberation Sans","fontSize":100,"angle":90,"align":"center","baseline":"middle","color":"black"},"encoding":{"x":{"field":"n","type":"quantitative"},"y":{"field":"z","type":"quantitative"},"text":{"field":"t"}}},
{"data":{"values":[{"n":36.4,"z":64.8,"t":"Shell energy"}]},"mark":{"type":"text","font":"Lato","fontSize":98,"align":"center","baseline":"alphabetic","color":"black"},"encoding":{"x":{"field":"n","type":"quantitative"},"y":{"field":"z","type":"quantitative"},"text":{"field":"t"}}},
{"data":{"values":[{"n":129.4,"z":48.07,"t":"208"},{"n":100.5,"z":35.4,"t":"132"}]},"mark":{"type":"text","font":"Liberation Sans","fontSize":58,"align":"left","baseline":"alphabetic","color":"black"},"encoding":{"x":{"field":"n","type":"quantitative"},"y":{"field":"z","type":"quantitative"},"text":{"field":"t"}}},
{"data":{"values":[{"n":141,"z":45.65,"t":"Pb"},{"n":111.8,"z":32.7,"t":"Sn"}]},"mark":{"type":"text","font":"Liberation Sans","fontSize":78,"align":"left","baseline":"alphabetic","color":"black"},"encoding":{"x":{"field":"n","type":"quantitative"},"y":{"field":"z","type":"quantitative"},"text":{"field":"t"}}},
{"data":{"values":[{"n":73,"z":17.3,"t":"M"},{"n":83.9,"z":17.3,"t":"M"}]},"mark":{"type":"text","font":"Liberation Sans","fontStyle":"italic","fontSize":36,"align":"left","baseline":"alphabetic","color":"black"},"encoding":{"x":{"field":"n","type":"quantitative"},"y":{"field":"z","type":"quantitative"},"text":{"field":"t"}}},
{"data":{"values":[{"n":76.6,"z":16.8,"t":"exp"},{"n":87.6,"z":16.8,"t":"WB"}]},"mark":{"type":"text","font":"Liberation Sans","fontSize":24,"align":"left","baseline":"alphabetic","color":"black"},"encoding":{"x":{"field":"n","type":"quantitative"},"y":{"field":"z","type":"quantitative"},"text":{"field":"t"}}},
{"data":{"values":[{"n":81.6,"z":17.3,"t":"−"}]},"mark":{"type":"text","font":"Liberation Sans","fontSize":30,"align":"left","baseline":"alphabetic","color":"black"},"encoding":{"x":{"field":"n","type":"quantitative"},"y":{"field":"z","type":"quantitative"},"text":{"field":"t"}}},
{"data":{"values":[{"n":82.4,"z":11.5,"t":"(MeV)"}]},"mark":{"type":"text","font":"Liberation Sans","fontSize":34,"align":"center","baseline":"alphabetic","color":"black"},"encoding":{"x":{"field":"n","type":"quantitative"},"y":{"field":"z","type":"quantitative"},"text":{"field":"t"}}},
{"data":{"values":[{"n":128.8,"z":-19.8,"t":"5"}]},"mark":{"type":"text","font":"Liberation Sans","fontSize":38,"align":"center","baseline":"alphabetic","color":"black"},"encoding":{"x":{"field":"n","type":"quantitative"},"y":{"field":"z","type":"quantitative"},"text":{"field":"t"}}}
]}
